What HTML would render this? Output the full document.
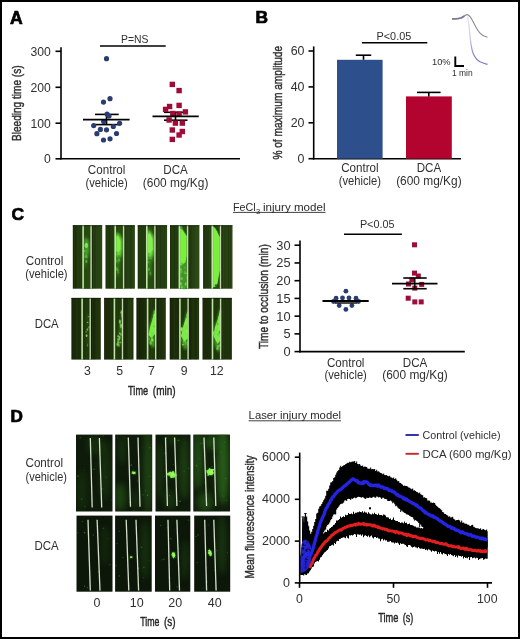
<!DOCTYPE html>
<html><head><meta charset="utf-8"><style>
html,body{margin:0;padding:0;background:#fff;}
svg{display:block;filter:blur(0.3px);}
text{font-family:"Liberation Sans",sans-serif;}
</style></head><body>
<svg width="520" height="639" viewBox="0 0 520 639">
<defs><linearGradient id="gBl" x1="0" y1="0" x2="0" y2="1"><stop offset="0" stop-color="#e4e4f6"/><stop offset="0.45" stop-color="#c8c8ee"/><stop offset="0.75" stop-color="#8c8cd8"/><stop offset="1" stop-color="#7474cc"/></linearGradient><filter id="b1" x="-50%" y="-50%" width="200%" height="200%"><feGaussianBlur stdDeviation="0.9"/></filter><filter id="b2" x="-50%" y="-50%" width="200%" height="200%"><feGaussianBlur stdDeviation="1.8"/></filter><filter id="b05" x="-50%" y="-50%" width="200%" height="200%"><feGaussianBlur stdDeviation="0.5"/></filter><linearGradient id="gC1" x1="0" x2="1" y1="0" y2="0"><stop offset="0" stop-color="#1a2c0a"/><stop offset="0.05" stop-color="#213a0d"/><stop offset="0.3" stop-color="#233c0f"/><stop offset="0.65" stop-color="#243d10"/><stop offset="1" stop-color="#2b4715"/></linearGradient><linearGradient id="gC2" x1="0" x2="1" y1="0" y2="0"><stop offset="0" stop-color="#111c06"/><stop offset="0.05" stop-color="#19290a"/><stop offset="0.3" stop-color="#1b2d0a"/><stop offset="0.65" stop-color="#1c2f0b"/><stop offset="1" stop-color="#21360d"/></linearGradient><filter id="b3" x="-50%" y="-50%" width="200%" height="200%"><feGaussianBlur stdDeviation="3"/></filter></defs>
<rect width="520" height="639" fill="#fff"/>
<text x="9.90" y="23.60" font-size="17.6" fill="#000" font-weight="bold" stroke="#000" stroke-width="0.7">A</text>
<line x1="61.00" y1="47.20" x2="61.00" y2="159.60" stroke="#000" stroke-width="1.6"/>
<line x1="60.20" y1="158.80" x2="240.00" y2="158.80" stroke="#000" stroke-width="1.6"/>
<line x1="55.50" y1="158.80" x2="61.00" y2="158.80" stroke="#000" stroke-width="1.6"/>
<text x="50.90" y="163.20" font-size="12.2" fill="#303030" text-anchor="end" >0</text>
<line x1="55.50" y1="123.20" x2="61.00" y2="123.20" stroke="#000" stroke-width="1.6"/>
<text x="50.90" y="127.60" font-size="12.2" fill="#303030" text-anchor="end" >100</text>
<line x1="55.50" y1="87.30" x2="61.00" y2="87.30" stroke="#000" stroke-width="1.6"/>
<text x="50.90" y="91.70" font-size="12.2" fill="#303030" text-anchor="end" >200</text>
<line x1="55.50" y1="51.30" x2="61.00" y2="51.30" stroke="#000" stroke-width="1.6"/>
<text x="50.90" y="55.70" font-size="12.2" fill="#303030" text-anchor="end" >300</text>
<text x="0" y="0" font-size="13" fill="#303030" text-anchor="middle" textLength="75.5" lengthAdjust="spacingAndGlyphs" stroke="#303030" stroke-width="0.45" transform="translate(21.40,103.20) rotate(-90)">Bleeding time (s)</text>
<line x1="100.00" y1="46.00" x2="165.70" y2="46.00" stroke="#000" stroke-width="1.6"/>
<text x="134.70" y="43.10" font-size="11.8" fill="#303030" text-anchor="middle" textLength="27.4" lengthAdjust="spacingAndGlyphs" >P=NS</text>
<line x1="95.00" y1="114.40" x2="118.70" y2="114.40" stroke="#000" stroke-width="1.6"/>
<line x1="95.00" y1="124.60" x2="118.70" y2="124.60" stroke="#000" stroke-width="1.6"/>
<line x1="106.50" y1="114.40" x2="106.50" y2="124.60" stroke="#000" stroke-width="1.6"/>
<circle cx="106.5" cy="58.7" r="2.6" fill="#2b3d70"/>
<circle cx="110" cy="98.7" r="2.6" fill="#2b3d70"/>
<circle cx="103.5" cy="102.1" r="2.6" fill="#2b3d70"/>
<circle cx="107.1" cy="114" r="2.6" fill="#2b3d70"/>
<circle cx="109" cy="116" r="2.6" fill="#2b3d70"/>
<circle cx="103.7" cy="121.5" r="2.6" fill="#2b3d70"/>
<circle cx="93.7" cy="125.6" r="2.6" fill="#2b3d70"/>
<circle cx="119.6" cy="123.3" r="2.6" fill="#2b3d70"/>
<circle cx="113.3" cy="126.5" r="2.6" fill="#2b3d70"/>
<circle cx="100.4" cy="129.4" r="2.6" fill="#2b3d70"/>
<circle cx="106.5" cy="129.8" r="2.6" fill="#2b3d70"/>
<circle cx="96.9" cy="133.7" r="2.6" fill="#2b3d70"/>
<circle cx="116.5" cy="133.5" r="2.6" fill="#2b3d70"/>
<circle cx="103.5" cy="140" r="2.6" fill="#2b3d70"/>
<circle cx="110" cy="138.8" r="2.6" fill="#2b3d70"/>
<line x1="83.00" y1="119.60" x2="129.60" y2="119.60" stroke="#000" stroke-width="1.8"/>
<line x1="164.00" y1="112.30" x2="187.50" y2="112.30" stroke="#000" stroke-width="1.6"/>
<line x1="164.00" y1="120.20" x2="187.50" y2="120.20" stroke="#000" stroke-width="1.6"/>
<line x1="175.50" y1="112.30" x2="175.50" y2="120.20" stroke="#000" stroke-width="1.6"/>
<rect x="169.60000000000002" y="81.7" width="5.4" height="5.4" fill="#a00c38"/>
<rect x="176.4" y="87.89999999999999" width="5.4" height="5.4" fill="#a00c38"/>
<rect x="176.4" y="102.7" width="5.4" height="5.4" fill="#a00c38"/>
<rect x="166.9" y="103.8" width="5.4" height="5.4" fill="#a00c38"/>
<rect x="162.9" y="106.7" width="5.4" height="5.4" fill="#a00c38"/>
<rect x="182.70000000000002" y="109.2" width="5.4" height="5.4" fill="#a00c38"/>
<rect x="170.10000000000002" y="110.8" width="5.4" height="5.4" fill="#a00c38"/>
<rect x="176.4" y="111.3" width="5.4" height="5.4" fill="#a00c38"/>
<rect x="166.4" y="117.3" width="5.4" height="5.4" fill="#a00c38"/>
<rect x="172.70000000000002" y="120.39999999999999" width="5.4" height="5.4" fill="#a00c38"/>
<rect x="179.60000000000002" y="120.39999999999999" width="5.4" height="5.4" fill="#a00c38"/>
<rect x="169.60000000000002" y="127.3" width="5.4" height="5.4" fill="#a00c38"/>
<rect x="179.60000000000002" y="128.8" width="5.4" height="5.4" fill="#a00c38"/>
<rect x="176.4" y="132.3" width="5.4" height="5.4" fill="#a00c38"/>
<rect x="169.60000000000002" y="136.70000000000002" width="5.4" height="5.4" fill="#a00c38"/>
<line x1="152.50" y1="116.40" x2="198.75" y2="116.40" stroke="#000" stroke-width="1.8"/>
<text x="106.60" y="173.80" font-size="12" fill="#303030" text-anchor="middle" textLength="37.5" lengthAdjust="spacingAndGlyphs" >Control</text>
<text x="106.60" y="187.30" font-size="12" fill="#303030" text-anchor="middle" textLength="42.3" lengthAdjust="spacingAndGlyphs" >(vehicle)</text>
<text x="175.60" y="173.80" font-size="12" fill="#303030" text-anchor="middle" textLength="24.5" lengthAdjust="spacingAndGlyphs" >DCA</text>
<text x="175.60" y="187.30" font-size="12" fill="#303030" text-anchor="middle" textLength="65.5" lengthAdjust="spacingAndGlyphs" >(600 mg/Kg)</text>
<text x="255.60" y="23.40" font-size="17.4" fill="#000" font-weight="bold" stroke="#000" stroke-width="0.7">B</text>
<line x1="313.70" y1="46.40" x2="313.70" y2="159.50" stroke="#000" stroke-width="1.6"/>
<line x1="312.90" y1="158.70" x2="461.00" y2="158.70" stroke="#000" stroke-width="1.6"/>
<line x1="308.50" y1="158.70" x2="313.70" y2="158.70" stroke="#000" stroke-width="1.6"/>
<text x="304.50" y="163.10" font-size="12.4" fill="#303030" text-anchor="end" >0</text>
<line x1="308.50" y1="122.80" x2="313.70" y2="122.80" stroke="#000" stroke-width="1.6"/>
<text x="304.50" y="127.20" font-size="12.4" fill="#303030" text-anchor="end" >20</text>
<line x1="308.50" y1="86.90" x2="313.70" y2="86.90" stroke="#000" stroke-width="1.6"/>
<text x="304.50" y="91.30" font-size="12.4" fill="#303030" text-anchor="end" >40</text>
<line x1="308.50" y1="51.00" x2="313.70" y2="51.00" stroke="#000" stroke-width="1.6"/>
<text x="304.50" y="55.40" font-size="12.4" fill="#303030" text-anchor="end" >60</text>
<text x="0" y="0" font-size="13.5" fill="#303030" text-anchor="middle" textLength="113.7" lengthAdjust="spacingAndGlyphs" stroke="#303030" stroke-width="0.45" transform="translate(282.40,102.75) rotate(-90)">% of maximum amplitude</text>
<rect x="337" y="59.8" width="45.6" height="98.89999999999999" fill="#2d4f8c"/>
<rect x="406" y="96.4" width="45.8" height="62.29999999999998" fill="#b3042f"/>
<line x1="363.50" y1="55.20" x2="363.50" y2="59.80" stroke="#000" stroke-width="1.6"/>
<line x1="355.80" y1="55.20" x2="371.20" y2="55.20" stroke="#000" stroke-width="1.6"/>
<line x1="428.80" y1="92.40" x2="428.80" y2="96.40" stroke="#000" stroke-width="1.6"/>
<line x1="417.00" y1="92.40" x2="440.60" y2="92.40" stroke="#000" stroke-width="1.6"/>
<line x1="361.90" y1="42.70" x2="427.30" y2="42.70" stroke="#000" stroke-width="1.6"/>
<text x="393.90" y="40.40" font-size="11.8" fill="#303030" text-anchor="middle" textLength="34.7" lengthAdjust="spacingAndGlyphs" >P&lt;0.05</text>
<text x="359.90" y="171.70" font-size="12" fill="#303030" text-anchor="middle" textLength="37.5" lengthAdjust="spacingAndGlyphs" >Control</text>
<text x="359.90" y="184.60" font-size="12" fill="#303030" text-anchor="middle" textLength="42.3" lengthAdjust="spacingAndGlyphs" >(vehicle)</text>
<text x="428.90" y="171.70" font-size="12" fill="#303030" text-anchor="middle" textLength="24.5" lengthAdjust="spacingAndGlyphs" >DCA</text>
<text x="428.90" y="184.60" font-size="12" fill="#303030" text-anchor="middle" textLength="65.5" lengthAdjust="spacingAndGlyphs" >(600 mg/Kg)</text>
<path d="M467.5,16.5 C468.5,20 469.3,28 470,36 C470.6,42 471.5,49 473,53 C474.5,57 477,60 480,61.8 C483,63 485,63.8 487.5,64.4" fill="none" stroke="url(#gBl)" stroke-width="1.2"/>
<path d="M452.1,18.9 C456,18.8 459,18.8 461,18 C463,17.2 465,14.6 467.2,14.6 C469.5,14.6 471,17.5 473,21.5 C475,25.5 477,30 480,33.2 C482,35.5 485,36.8 487.5,37.3" fill="none" stroke="#8c8c96" stroke-width="1.1"/>
<path d="M452.1,18.9 C456,18.8 459,18.8 461,18 C462.5,17.4 463.5,16.6 464.5,16" fill="none" stroke="#7a7a94" stroke-width="1.8"/>
<path d="M455.3,56.5 L455.3,66 L464,66" fill="none" stroke="#000" stroke-width="1.9"/>
<text x="432.00" y="64.50" font-size="9" fill="#303030" textLength="18.6" lengthAdjust="spacingAndGlyphs" >10%</text>
<text x="452.00" y="75.90" font-size="8.6" fill="#303030" textLength="20.7" lengthAdjust="spacingAndGlyphs" >1 min</text>
<text x="11.60" y="219.80" font-size="17.4" fill="#000" font-weight="bold" stroke="#000" stroke-width="0.7">C</text>
<text x="233.00" y="210.90" font-size="11" fill="#2a2a2a" textLength="22.7" lengthAdjust="spacingAndGlyphs" >FeCl</text>
<text x="255.90" y="214.30" font-size="7.5" fill="#2a2a2a" >3</text>
<text x="263.00" y="210.90" font-size="11" fill="#2a2a2a" textLength="62.5" lengthAdjust="spacingAndGlyphs" >injury model</text>
<line x1="233.00" y1="212.40" x2="325.50" y2="212.40" stroke="#2a2a2a" stroke-width="0.9"/>
<text x="25.80" y="264.70" font-size="12" fill="#303030" textLength="37.5" lengthAdjust="spacingAndGlyphs" >Control</text>
<text x="25.30" y="278.30" font-size="12" fill="#303030" textLength="42.3" lengthAdjust="spacingAndGlyphs" >(vehicle)</text>
<text x="34.70" y="328.30" font-size="12" fill="#303030" textLength="24" lengthAdjust="spacingAndGlyphs" >DCA</text>
<text x="87.40" y="374.80" font-size="12.3" fill="#303030" text-anchor="middle" >3</text>
<text x="119.60" y="374.80" font-size="12.3" fill="#303030" text-anchor="middle" >5</text>
<text x="151.30" y="374.80" font-size="12.3" fill="#303030" text-anchor="middle" >7</text>
<text x="184.20" y="374.80" font-size="12.3" fill="#303030" text-anchor="middle" >9</text>
<text x="216.80" y="374.80" font-size="12.3" fill="#303030" text-anchor="middle" >12</text>
<text x="128.10" y="394.50" font-size="13.6" fill="#303030" textLength="20" lengthAdjust="spacingAndGlyphs" stroke="#1a1a1a" stroke-width="0.45">Time</text>
<text x="152.80" y="394.50" font-size="13.6" fill="#303030" textLength="22.8" lengthAdjust="spacingAndGlyphs" stroke="#1a1a1a" stroke-width="0.45">(min)</text>
<g>
<rect x="72.8" y="225.2" width="29.4" height="63.5" fill="url(#gC1)"/>
<rect x="72.9" y="225.2" width="1.1" height="63.5" fill="#000" opacity="0.12"/>
<rect x="74.7" y="225.2" width="1.7" height="63.5" fill="#000" opacity="0.18"/>
<rect x="87.5" y="225.2" width="1.0" height="63.5" fill="#000" opacity="0.12"/>
<rect x="81.6" y="225.2" width="1.7" height="63.5" fill="#000" opacity="0.12"/>
<rect x="94.1" y="225.2" width="1.6" height="63.5" fill="#000" opacity="0.12"/>
<rect x="85.2" y="225.2" width="0.7" height="63.5" fill="#000" opacity="0.13"/>
<rect x="80.6" y="225.2" width="0.8" height="63.5" fill="#4a7a28" opacity="0.09"/>
<rect x="83.1" y="225.2" width="8.0" height="63.5" fill="#2a5010" opacity="0.7"/>
<rect x="91.69999999999999" y="225.2" width="1.2" height="63.5" fill="#000" opacity="0.3"/>
<path d="M84.0,237.2 L87.3,236.7 L89.3,241.2 L89.6,251.2 L88.3,259.2 L85.8,267.2 L84.0,269.2 Z" fill="#3a8a24" opacity="0.55" filter="url(#b2)"/>
<path d="M84.3,239.2 L87.3,238.7 L88.8,243.2 L88.8,251.2 L87.3,257.2 L84.8,259.2 L84.3,255.2 Z" fill="#4cae30" opacity="0.8" filter="url(#b1)"/>
<path d="M88.1,245.5 L87.8,247.0 L86.9,248.0 L85.7,248.0 L84.8,247.0 L84.5,245.5 L84.8,244.0 L85.7,243.0 L86.9,243.0 L87.8,244.0 Z" fill="#8ae060" opacity="0.95" filter="url(#b05)"/>
<ellipse cx="85.9" cy="256.2" rx="1.3" ry="1.5" fill="#6cc848" opacity="0.47" filter="url(#b05)"/>
<ellipse cx="86.2" cy="257.3" rx="1.2" ry="0.9" fill="#5ab83a" opacity="0.46" filter="url(#b05)"/>
<ellipse cx="86.3" cy="261.4" rx="1.1" ry="1.6" fill="#5ab83a" opacity="0.79" filter="url(#b05)"/>
<ellipse cx="86.8" cy="257.0" rx="0.7" ry="0.8" fill="#6cc848" opacity="0.42" filter="url(#b05)"/>
<ellipse cx="84.8" cy="251.1" rx="0.6" ry="1.4" fill="#5ab83a" opacity="0.64" filter="url(#b05)"/>
<ellipse cx="84.8" cy="250.9" rx="0.8" ry="0.8" fill="#6cc848" opacity="0.58" filter="url(#b05)"/>
<rect x="82.3" y="225.2" width="1.6" height="63.5" fill="#c0e4a8"/>
<rect x="90.39999999999999" y="225.2" width="1.4" height="63.5" fill="#c4d8b0"/>
<rect x="72.8" y="225.2" width="29.4" height="1" fill="#0c1804" opacity="0.6"/>
</g>
<g>
<rect x="105.5" y="225.2" width="29.4" height="63.5" fill="url(#gC1)"/>
<rect x="129.9" y="225.2" width="1.0" height="63.5" fill="#000" opacity="0.13"/>
<rect x="114.8" y="225.2" width="1.7" height="63.5" fill="#000" opacity="0.14"/>
<rect x="108.7" y="225.2" width="1.1" height="63.5" fill="#000" opacity="0.15"/>
<rect x="131.0" y="225.2" width="1.5" height="63.5" fill="#000" opacity="0.10"/>
<rect x="123.2" y="225.2" width="1.4" height="63.5" fill="#4a7a28" opacity="0.12"/>
<rect x="121.6" y="225.2" width="0.8" height="63.5" fill="#000" opacity="0.09"/>
<rect x="113.1" y="225.2" width="1.2" height="63.5" fill="#4a7a28" opacity="0.08"/>
<rect x="115.2" y="225.2" width="8.400000000000002" height="63.5" fill="#2a5010" opacity="0.7"/>
<rect x="124.19999999999999" y="225.2" width="1.2" height="63.5" fill="#000" opacity="0.3"/>
<path d="M116.0,231.2 L118.5,232.2 L122.5,238.2 L122.8,247.2 L121.8,258.2 L119.5,262.2 L118.5,275.2 L116.5,277.2 L116.0,265.2 Z" fill="#3e9a26" opacity="0.7" filter="url(#b2)"/>
<path d="M116.0,233.2 L118.5,233.7 L121.8,239.2 L122.1,248.2 L121.0,255.2 L118.0,258.2 L116.0,255.2 Z" fill="#6ad83a" opacity="0.95" filter="url(#b1)"/>
<path d="M116.3,236.2 L118.5,236.2 L120.5,241.2 L120.5,249.2 L118.5,252.2 L116.3,251.2 Z" fill="#88f050" opacity="0.9" filter="url(#b05)"/>
<ellipse cx="116.9" cy="268.9" rx="1.1" ry="2.0" fill="#58b834" opacity="0.66" filter="url(#b05)"/>
<ellipse cx="118.3" cy="272.6" rx="1.1" ry="1.1" fill="#4aa82c" opacity="0.61" filter="url(#b05)"/>
<ellipse cx="116.7" cy="261.1" rx="0.9" ry="2.0" fill="#4aa82c" opacity="0.80" filter="url(#b05)"/>
<ellipse cx="118.9" cy="256.9" rx="1.2" ry="2.0" fill="#3e9426" opacity="0.73" filter="url(#b05)"/>
<ellipse cx="118.8" cy="260.3" rx="1.3" ry="1.5" fill="#64c83a" opacity="0.67" filter="url(#b05)"/>
<ellipse cx="118.3" cy="262.1" rx="1.1" ry="1.7" fill="#3e9426" opacity="0.68" filter="url(#b05)"/>
<ellipse cx="117.9" cy="270.2" rx="0.7" ry="1.7" fill="#64c83a" opacity="0.61" filter="url(#b05)"/>
<ellipse cx="117.0" cy="258.8" rx="0.9" ry="1.3" fill="#3e9426" opacity="0.64" filter="url(#b05)"/>
<rect x="114.4" y="225.2" width="1.6" height="63.5" fill="#c0e4a8"/>
<rect x="122.89999999999999" y="225.2" width="1.4" height="63.5" fill="#c4d8b0"/>
<rect x="105.5" y="225.2" width="29.4" height="1" fill="#0c1804" opacity="0.6"/>
</g>
<g>
<rect x="137.7" y="225.2" width="29.4" height="63.5" fill="url(#gC1)"/>
<rect x="159.8" y="225.2" width="1.0" height="63.5" fill="#000" opacity="0.17"/>
<rect x="148.9" y="225.2" width="1.3" height="63.5" fill="#4a7a28" opacity="0.18"/>
<rect x="151.9" y="225.2" width="1.2" height="63.5" fill="#000" opacity="0.11"/>
<rect x="164.0" y="225.2" width="1.1" height="63.5" fill="#000" opacity="0.13"/>
<rect x="150.6" y="225.2" width="1.7" height="63.5" fill="#4a7a28" opacity="0.09"/>
<rect x="161.8" y="225.2" width="0.9" height="63.5" fill="#000" opacity="0.13"/>
<rect x="146.0" y="225.2" width="1.5" height="63.5" fill="#000" opacity="0.08"/>
<rect x="146.79999999999998" y="225.2" width="8.1" height="63.5" fill="#2a5010" opacity="0.7"/>
<rect x="155.49999999999997" y="225.2" width="1.2" height="63.5" fill="#000" opacity="0.3"/>
<path d="M147.6,228.2 L149.7,229.2 L153.7,235.2 L154.5,247.2 L153.7,259.2 L151.2,263.2 L150.7,275.2 L148.7,277.2 L147.6,267.2 Z" fill="#3e9a26" opacity="0.7" filter="url(#b2)"/>
<path d="M147.6,230.2 L149.7,231.2 L153.5,237.2 L153.9,249.2 L152.5,256.2 L148.7,258.2 L147.6,255.2 Z" fill="#6ee03c" opacity="0.95" filter="url(#b1)"/>
<path d="M147.9,233.2 L150.2,234.2 L152.5,239.2 L152.7,249.2 L150.7,253.2 L147.9,252.2 Z" fill="#8af252" opacity="0.9" filter="url(#b05)"/>
<ellipse cx="150.6" cy="258.4" rx="1.4" ry="0.8" fill="#58b834" opacity="0.74" filter="url(#b05)"/>
<ellipse cx="149.0" cy="269.4" rx="0.8" ry="1.2" fill="#58b834" opacity="0.77" filter="url(#b05)"/>
<ellipse cx="148.4" cy="262.3" rx="0.9" ry="1.2" fill="#64c83a" opacity="0.49" filter="url(#b05)"/>
<ellipse cx="149.5" cy="263.6" rx="0.7" ry="1.6" fill="#3e9426" opacity="0.58" filter="url(#b05)"/>
<ellipse cx="148.9" cy="269.1" rx="1.0" ry="1.9" fill="#4aa82c" opacity="0.60" filter="url(#b05)"/>
<ellipse cx="148.2" cy="258.6" rx="1.4" ry="1.8" fill="#4aa82c" opacity="0.51" filter="url(#b05)"/>
<ellipse cx="149.6" cy="272.9" rx="0.7" ry="1.0" fill="#4aa82c" opacity="0.43" filter="url(#b05)"/>
<ellipse cx="150.6" cy="273.6" rx="0.8" ry="2.1" fill="#58b834" opacity="0.47" filter="url(#b05)"/>
<rect x="145.99999999999997" y="225.2" width="1.6" height="63.5" fill="#c0e4a8"/>
<rect x="154.2" y="225.2" width="1.4" height="63.5" fill="#c4d8b0"/>
<rect x="137.7" y="225.2" width="29.4" height="1" fill="#0c1804" opacity="0.6"/>
</g>
<g>
<rect x="170.0" y="225.2" width="29.4" height="63.5" fill="url(#gC1)"/>
<rect x="174.0" y="225.2" width="0.7" height="63.5" fill="#000" opacity="0.18"/>
<rect x="190.3" y="225.2" width="1.2" height="63.5" fill="#000" opacity="0.14"/>
<rect x="197.3" y="225.2" width="1.4" height="63.5" fill="#4a7a28" opacity="0.15"/>
<rect x="178.8" y="225.2" width="0.6" height="63.5" fill="#4a7a28" opacity="0.19"/>
<rect x="195.9" y="225.2" width="0.8" height="63.5" fill="#000" opacity="0.11"/>
<rect x="195.6" y="225.2" width="1.4" height="63.5" fill="#4a7a28" opacity="0.19"/>
<rect x="186.7" y="225.2" width="0.7" height="63.5" fill="#4a7a28" opacity="0.08"/>
<rect x="179.4" y="225.2" width="8.200000000000001" height="63.5" fill="#2a5010" opacity="0.7"/>
<rect x="188.2" y="225.2" width="1.2" height="63.5" fill="#000" opacity="0.3"/>
<path d="M180.2,225.7 L182.0,225.7 L183.0,229.2 L186.8,235.2 L186.8,288.2 L180.2,288.2 Z" fill="#4a9e2e" opacity="0.9" filter="url(#b05)"/>
<path d="M180.2,228.2 L182.5,230.2 L186.6,236.2 L186.6,255.2 L185.5,262.2 L183.0,264.2 L180.2,265.2 Z" fill="#7af03e" opacity="1" filter="url(#b05)"/>
<ellipse cx="182.6" cy="274.2" rx="0.9" ry="1.4" fill="#3e9426" opacity="0.94" filter="url(#b05)"/>
<ellipse cx="184.9" cy="267.6" rx="0.8" ry="1.2" fill="#58b834" opacity="0.87" filter="url(#b05)"/>
<ellipse cx="186.5" cy="277.5" rx="0.6" ry="1.1" fill="#58b834" opacity="0.70" filter="url(#b05)"/>
<ellipse cx="186.1" cy="283.0" rx="1.1" ry="0.8" fill="#64c83a" opacity="0.84" filter="url(#b05)"/>
<ellipse cx="184.8" cy="287.8" rx="1.2" ry="1.3" fill="#3e9426" opacity="0.92" filter="url(#b05)"/>
<ellipse cx="182.5" cy="272.6" rx="1.1" ry="2.1" fill="#4aa82c" opacity="0.83" filter="url(#b05)"/>
<ellipse cx="182.1" cy="263.5" rx="1.4" ry="0.8" fill="#58b834" opacity="0.69" filter="url(#b05)"/>
<ellipse cx="181.2" cy="269.4" rx="1.0" ry="0.9" fill="#64c83a" opacity="0.79" filter="url(#b05)"/>
<ellipse cx="185.8" cy="273.2" rx="1.3" ry="0.8" fill="#64c83a" opacity="0.88" filter="url(#b05)"/>
<ellipse cx="181.0" cy="283.7" rx="0.7" ry="1.7" fill="#86f050" opacity="0.88" filter="url(#b05)"/>
<ellipse cx="186.3" cy="285.4" rx="0.6" ry="0.9" fill="#3e9426" opacity="0.76" filter="url(#b05)"/>
<ellipse cx="182.3" cy="275.0" rx="1.4" ry="1.9" fill="#3e9426" opacity="0.93" filter="url(#b05)"/>
<ellipse cx="180.7" cy="269.8" rx="1.2" ry="1.6" fill="#6cd838" opacity="0.60" filter="url(#b05)"/>
<ellipse cx="184.3" cy="286.0" rx="0.7" ry="1.8" fill="#3e9426" opacity="0.66" filter="url(#b05)"/>
<ellipse cx="184.4" cy="268.1" rx="0.7" ry="0.8" fill="#4aa82c" opacity="0.70" filter="url(#b05)"/>
<ellipse cx="181.0" cy="278.5" rx="0.8" ry="1.4" fill="#3e9426" opacity="0.79" filter="url(#b05)"/>
<ellipse cx="185.0" cy="273.6" rx="0.6" ry="0.8" fill="#6cd838" opacity="0.77" filter="url(#b05)"/>
<ellipse cx="181.9" cy="287.3" rx="0.9" ry="1.9" fill="#74e43c" opacity="0.77" filter="url(#b05)"/>
<ellipse cx="180.9" cy="264.3" rx="0.9" ry="2.0" fill="#6cd838" opacity="0.65" filter="url(#b05)"/>
<ellipse cx="181.1" cy="272.1" rx="1.0" ry="1.4" fill="#58b834" opacity="0.87" filter="url(#b05)"/>
<ellipse cx="185.6" cy="284.4" rx="0.8" ry="1.4" fill="#7cf040" opacity="0.80" filter="url(#b05)"/>
<ellipse cx="184.0" cy="287.5" rx="1.3" ry="1.9" fill="#4aa82c" opacity="0.89" filter="url(#b05)"/>
<ellipse cx="181.8" cy="278.6" rx="0.8" ry="1.4" fill="#86f050" opacity="0.80" filter="url(#b05)"/>
<ellipse cx="180.7" cy="278.3" rx="1.1" ry="1.8" fill="#58b834" opacity="0.62" filter="url(#b05)"/>
<ellipse cx="180.7" cy="274.6" rx="1.2" ry="1.5" fill="#4aa82c" opacity="0.67" filter="url(#b05)"/>
<ellipse cx="184.9" cy="272.1" rx="0.9" ry="1.1" fill="#64c83a" opacity="0.68" filter="url(#b05)"/>
<rect x="178.6" y="225.2" width="1.6" height="63.5" fill="#c0e4a8"/>
<rect x="186.9" y="225.2" width="1.4" height="63.5" fill="#c4d8b0"/>
<rect x="170.0" y="225.2" width="29.4" height="1" fill="#0c1804" opacity="0.6"/>
</g>
<g>
<rect x="203.1" y="225.2" width="29.4" height="63.5" fill="url(#gC1)"/>
<rect x="229.9" y="225.2" width="0.7" height="63.5" fill="#000" opacity="0.17"/>
<rect x="209.2" y="225.2" width="1.0" height="63.5" fill="#4a7a28" opacity="0.16"/>
<rect x="228.3" y="225.2" width="0.8" height="63.5" fill="#000" opacity="0.20"/>
<rect x="223.1" y="225.2" width="0.8" height="63.5" fill="#4a7a28" opacity="0.19"/>
<rect x="203.4" y="225.2" width="1.3" height="63.5" fill="#000" opacity="0.13"/>
<rect x="216.8" y="225.2" width="1.3" height="63.5" fill="#000" opacity="0.13"/>
<rect x="210.8" y="225.2" width="1.3" height="63.5" fill="#4a7a28" opacity="0.19"/>
<rect x="212.29999999999998" y="225.2" width="8.2" height="63.5" fill="#2a5010" opacity="0.7"/>
<rect x="221.1" y="225.2" width="1.2" height="63.5" fill="#000" opacity="0.3"/>
<path d="M213.1,226.2 L215.1,228.2 L217.1,231.2 L219.8,237.2 L219.8,270.2 L217.6,283.2 L216.1,286.7 L213.1,287.2 Z" fill="#7af03c" opacity="1" filter="url(#b05)"/>
<path d="M217.6,285.7 L217.3,286.6 L216.6,287.1 L215.6,287.1 L214.9,286.6 L214.6,285.7 L214.9,284.8 L215.6,284.3 L216.6,284.3 L217.3,284.8 Z" fill="#2a5a18" opacity="0.8" filter="url(#b05)"/>
<rect x="211.49999999999997" y="225.2" width="1.6" height="63.5" fill="#c0e4a8"/>
<rect x="219.8" y="225.2" width="1.4" height="63.5" fill="#c4d8b0"/>
<rect x="203.1" y="225.2" width="29.4" height="1" fill="#0c1804" opacity="0.6"/>
</g>
<g>
<rect x="71.4" y="297.9" width="29.4" height="61.7" fill="url(#gC2)"/>
<rect x="81.5" y="297.9" width="0.6" height="61.7" fill="#000" opacity="0.10"/>
<rect x="92.9" y="297.9" width="1.1" height="61.7" fill="#000" opacity="0.15"/>
<rect x="84.1" y="297.9" width="1.0" height="61.7" fill="#000" opacity="0.19"/>
<rect x="88.3" y="297.9" width="0.7" height="61.7" fill="#000" opacity="0.11"/>
<rect x="87.0" y="297.9" width="1.2" height="61.7" fill="#4a7a28" opacity="0.08"/>
<rect x="94.1" y="297.9" width="1.2" height="61.7" fill="#000" opacity="0.18"/>
<rect x="75.9" y="297.9" width="1.5" height="61.7" fill="#4a7a28" opacity="0.09"/>
<rect x="82.10000000000001" y="297.9" width="8.100000000000001" height="61.7" fill="#24400e" opacity="0.5"/>
<rect x="90.8" y="297.9" width="1.2" height="61.7" fill="#000" opacity="0.3"/>
<path d="M86.4,313.9 L89.4,313.9 L89.4,343.9 L86.4,343.9 Z" fill="#3a7a22" opacity="0.3" filter="url(#b2)"/>
<ellipse cx="86.5" cy="336.0" rx="0.8" ry="1.0" fill="#8ad060" opacity="0.70" filter="url(#b05)"/>
<ellipse cx="87.6" cy="344.7" rx="0.6" ry="1.1" fill="#8ad060" opacity="0.35" filter="url(#b05)"/>
<ellipse cx="89.2" cy="327.6" rx="0.6" ry="1.3" fill="#8ad060" opacity="0.59" filter="url(#b05)"/>
<ellipse cx="87.4" cy="345.8" rx="0.9" ry="1.0" fill="#6cb848" opacity="0.36" filter="url(#b05)"/>
<ellipse cx="87.1" cy="329.8" rx="0.6" ry="1.5" fill="#6cb848" opacity="0.36" filter="url(#b05)"/>
<ellipse cx="88.5" cy="316.7" rx="0.9" ry="0.6" fill="#8ad060" opacity="0.54" filter="url(#b05)"/>
<ellipse cx="87.1" cy="329.4" rx="0.6" ry="0.6" fill="#8ad060" opacity="0.38" filter="url(#b05)"/>
<ellipse cx="86.6" cy="335.5" rx="0.9" ry="1.2" fill="#9ad870" opacity="0.70" filter="url(#b05)"/>
<ellipse cx="86.1" cy="331.8" rx="0.8" ry="0.9" fill="#6cb848" opacity="0.67" filter="url(#b05)"/>
<ellipse cx="89.0" cy="327.0" rx="0.7" ry="1.0" fill="#6cb848" opacity="0.46" filter="url(#b05)"/>
<ellipse cx="87.6" cy="322.4" rx="0.9" ry="0.7" fill="#9ad870" opacity="0.70" filter="url(#b05)"/>
<ellipse cx="87.6" cy="329.6" rx="0.8" ry="1.3" fill="#8ad060" opacity="0.55" filter="url(#b05)"/>
<rect x="81.30000000000001" y="297.9" width="1.6" height="61.7" fill="#c0e4a8"/>
<rect x="89.5" y="297.9" width="1.4" height="61.7" fill="#c4d8b0"/>
<rect x="71.4" y="297.9" width="29.4" height="1" fill="#0c1804" opacity="0.6"/>
</g>
<g>
<rect x="104.1" y="297.9" width="29.4" height="61.7" fill="url(#gC2)"/>
<rect x="127.9" y="297.9" width="1.4" height="61.7" fill="#4a7a28" opacity="0.12"/>
<rect x="117.0" y="297.9" width="1.2" height="61.7" fill="#4a7a28" opacity="0.12"/>
<rect x="129.8" y="297.9" width="1.8" height="61.7" fill="#4a7a28" opacity="0.15"/>
<rect x="104.4" y="297.9" width="1.4" height="61.7" fill="#4a7a28" opacity="0.10"/>
<rect x="110.5" y="297.9" width="0.7" height="61.7" fill="#4a7a28" opacity="0.21"/>
<rect x="125.2" y="297.9" width="1.1" height="61.7" fill="#000" opacity="0.15"/>
<rect x="114.2" y="297.9" width="1.1" height="61.7" fill="#000" opacity="0.11"/>
<rect x="114.39999999999999" y="297.9" width="8.099999999999998" height="61.7" fill="#24400e" opacity="0.5"/>
<rect x="123.1" y="297.9" width="1.2" height="61.7" fill="#000" opacity="0.3"/>
<path d="M121.1,309.9 L122.1,309.9 L122.1,327.9 L121.1,339.9 L119.1,347.9 L117.1,345.9 L118.6,332.9 L120.1,319.9 Z" fill="#4aa82c" opacity="0.5" filter="url(#b1)"/>
<ellipse cx="121.9" cy="315.2" rx="0.6" ry="2.2" fill="#8ee060" opacity="0.78" filter="url(#b05)"/>
<ellipse cx="121.0" cy="312.9" rx="0.8" ry="0.9" fill="#7cd850" opacity="0.57" filter="url(#b05)"/>
<ellipse cx="119.6" cy="337.8" rx="0.9" ry="2.0" fill="#7cd850" opacity="0.85" filter="url(#b05)"/>
<ellipse cx="119.8" cy="321.7" rx="0.8" ry="2.0" fill="#7cd850" opacity="0.71" filter="url(#b05)"/>
<ellipse cx="121.8" cy="312.2" rx="0.9" ry="1.3" fill="#8ee060" opacity="0.88" filter="url(#b05)"/>
<ellipse cx="118.3" cy="339.6" rx="1.4" ry="1.7" fill="#8ee060" opacity="0.61" filter="url(#b05)"/>
<ellipse cx="118.1" cy="336.2" rx="0.9" ry="1.3" fill="#8ee060" opacity="0.67" filter="url(#b05)"/>
<ellipse cx="121.5" cy="325.0" rx="1.3" ry="1.1" fill="#7cd850" opacity="0.65" filter="url(#b05)"/>
<ellipse cx="119.8" cy="321.2" rx="1.1" ry="1.6" fill="#6cc848" opacity="0.80" filter="url(#b05)"/>
<ellipse cx="121.5" cy="326.1" rx="0.7" ry="1.4" fill="#8ee060" opacity="0.67" filter="url(#b05)"/>
<ellipse cx="118.8" cy="345.2" rx="1.4" ry="1.5" fill="#6cc848" opacity="0.50" filter="url(#b05)"/>
<ellipse cx="117.6" cy="344.5" rx="1.1" ry="1.4" fill="#8ee060" opacity="0.71" filter="url(#b05)"/>
<ellipse cx="121.0" cy="334.5" rx="0.8" ry="1.8" fill="#8ee060" opacity="0.58" filter="url(#b05)"/>
<ellipse cx="120.4" cy="342.5" rx="1.0" ry="0.9" fill="#7cd850" opacity="0.64" filter="url(#b05)"/>
<ellipse cx="120.1" cy="322.8" rx="0.7" ry="1.8" fill="#6cc848" opacity="0.78" filter="url(#b05)"/>
<ellipse cx="119.8" cy="333.4" rx="0.9" ry="1.0" fill="#7cd850" opacity="0.83" filter="url(#b05)"/>
<ellipse cx="121.3" cy="311.2" rx="0.8" ry="1.5" fill="#6cc848" opacity="0.52" filter="url(#b05)"/>
<ellipse cx="120.4" cy="325.8" rx="0.8" ry="2.0" fill="#8ee060" opacity="0.61" filter="url(#b05)"/>
<ellipse cx="117.5" cy="343.7" rx="1.1" ry="0.9" fill="#6cc848" opacity="0.56" filter="url(#b05)"/>
<ellipse cx="118.1" cy="342.1" rx="1.2" ry="1.2" fill="#8ee060" opacity="0.59" filter="url(#b05)"/>
<ellipse cx="121.1" cy="327.1" rx="1.1" ry="1.4" fill="#6cc848" opacity="0.56" filter="url(#b05)"/>
<ellipse cx="118.5" cy="342.7" rx="1.3" ry="0.8" fill="#6cc848" opacity="0.74" filter="url(#b05)"/>
<rect x="113.6" y="297.9" width="1.6" height="61.7" fill="#c0e4a8"/>
<rect x="121.8" y="297.9" width="1.4" height="61.7" fill="#c4d8b0"/>
<rect x="104.1" y="297.9" width="29.4" height="1" fill="#0c1804" opacity="0.6"/>
</g>
<g>
<rect x="136.4" y="297.9" width="29.4" height="61.7" fill="url(#gC2)"/>
<rect x="160.4" y="297.9" width="1.5" height="61.7" fill="#000" opacity="0.09"/>
<rect x="150.7" y="297.9" width="1.3" height="61.7" fill="#4a7a28" opacity="0.15"/>
<rect x="153.5" y="297.9" width="1.0" height="61.7" fill="#4a7a28" opacity="0.15"/>
<rect x="139.3" y="297.9" width="0.6" height="61.7" fill="#000" opacity="0.19"/>
<rect x="142.7" y="297.9" width="0.7" height="61.7" fill="#000" opacity="0.12"/>
<rect x="140.3" y="297.9" width="0.6" height="61.7" fill="#000" opacity="0.21"/>
<rect x="157.6" y="297.9" width="1.4" height="61.7" fill="#000" opacity="0.13"/>
<rect x="147.6" y="297.9" width="8.100000000000001" height="61.7" fill="#24400e" opacity="0.5"/>
<rect x="156.3" y="297.9" width="1.2" height="61.7" fill="#000" opacity="0.3"/>
<path d="M154.4,307.9 L155.0,308.9 L155.0,345.9 L152.4,347.9 L149.4,342.9 L148.2,335.9 L148.9,327.9 L151.9,317.9 Z" fill="#4aa82c" opacity="0.8" filter="url(#b1)"/>
<path d="M154.4,309.9 L155.0,310.9 L155.0,333.9 L151.4,337.9 L148.6,334.9 L150.4,325.9 L152.9,317.9 Z" fill="#78ec40" opacity="1" filter="url(#b05)"/>
<ellipse cx="154.3" cy="312.1" rx="1.1" ry="1.4" fill="#4aa82c" opacity="0.74" filter="url(#b05)"/>
<ellipse cx="153.2" cy="319.1" rx="0.6" ry="1.7" fill="#7cf040" opacity="0.64" filter="url(#b05)"/>
<ellipse cx="154.9" cy="327.8" rx="0.6" ry="1.7" fill="#86f050" opacity="0.74" filter="url(#b05)"/>
<ellipse cx="152.3" cy="333.9" rx="1.1" ry="2.2" fill="#74e43c" opacity="0.83" filter="url(#b05)"/>
<ellipse cx="152.2" cy="339.8" rx="0.7" ry="1.5" fill="#6cd838" opacity="0.87" filter="url(#b05)"/>
<ellipse cx="149.5" cy="339.3" rx="1.0" ry="1.7" fill="#4aa82c" opacity="0.68" filter="url(#b05)"/>
<ellipse cx="152.2" cy="340.1" rx="0.9" ry="1.3" fill="#7cf040" opacity="0.82" filter="url(#b05)"/>
<ellipse cx="154.3" cy="326.2" rx="0.8" ry="1.0" fill="#58b834" opacity="0.91" filter="url(#b05)"/>
<ellipse cx="153.1" cy="340.4" rx="0.8" ry="1.6" fill="#64c83a" opacity="0.84" filter="url(#b05)"/>
<ellipse cx="154.6" cy="315.3" rx="1.4" ry="0.9" fill="#86f050" opacity="0.76" filter="url(#b05)"/>
<ellipse cx="154.6" cy="325.8" rx="0.7" ry="0.8" fill="#86f050" opacity="0.80" filter="url(#b05)"/>
<ellipse cx="152.0" cy="337.6" rx="1.0" ry="1.2" fill="#74e43c" opacity="0.64" filter="url(#b05)"/>
<ellipse cx="152.0" cy="339.8" rx="0.8" ry="1.4" fill="#7cf040" opacity="0.78" filter="url(#b05)"/>
<ellipse cx="150.7" cy="342.8" rx="1.3" ry="2.1" fill="#64c83a" opacity="0.92" filter="url(#b05)"/>
<rect x="146.79999999999998" y="297.9" width="1.6" height="61.7" fill="#c0e4a8"/>
<rect x="155.00000000000003" y="297.9" width="1.4" height="61.7" fill="#c4d8b0"/>
<rect x="136.4" y="297.9" width="29.4" height="1" fill="#0c1804" opacity="0.6"/>
</g>
<g>
<rect x="169.7" y="297.9" width="29.4" height="61.7" fill="url(#gC2)"/>
<rect x="182.9" y="297.9" width="1.4" height="61.7" fill="#000" opacity="0.18"/>
<rect x="174.0" y="297.9" width="1.0" height="61.7" fill="#4a7a28" opacity="0.12"/>
<rect x="195.3" y="297.9" width="1.5" height="61.7" fill="#000" opacity="0.09"/>
<rect x="194.7" y="297.9" width="0.6" height="61.7" fill="#000" opacity="0.13"/>
<rect x="196.5" y="297.9" width="1.5" height="61.7" fill="#4a7a28" opacity="0.10"/>
<rect x="190.0" y="297.9" width="1.3" height="61.7" fill="#000" opacity="0.18"/>
<rect x="195.9" y="297.9" width="0.8" height="61.7" fill="#000" opacity="0.14"/>
<rect x="179.89999999999998" y="297.9" width="8.2" height="61.7" fill="#24400e" opacity="0.5"/>
<rect x="188.7" y="297.9" width="1.2" height="61.7" fill="#000" opacity="0.3"/>
<path d="M187.2,309.9 L187.7,310.4 L187.7,347.9 L184.7,349.9 L181.7,343.9 L180.5,335.9 L181.2,329.9 L184.2,321.9 Z" fill="#4aa82c" opacity="0.8" filter="url(#b1)"/>
<path d="M187.2,311.9 L187.7,312.9 L187.7,337.9 L184.7,341.9 L181.0,335.9 L182.7,327.9 L185.2,319.9 Z" fill="#78ec40" opacity="1" filter="url(#b05)"/>
<ellipse cx="185.7" cy="342.8" rx="0.7" ry="2.2" fill="#6cd838" opacity="0.67" filter="url(#b05)"/>
<ellipse cx="185.5" cy="337.7" rx="1.4" ry="1.9" fill="#7cf040" opacity="0.89" filter="url(#b05)"/>
<ellipse cx="186.1" cy="327.7" rx="1.3" ry="2.2" fill="#74e43c" opacity="0.61" filter="url(#b05)"/>
<ellipse cx="181.9" cy="329.6" rx="1.3" ry="1.8" fill="#6cd838" opacity="0.98" filter="url(#b05)"/>
<ellipse cx="186.6" cy="316.9" rx="0.9" ry="1.2" fill="#4aa82c" opacity="0.86" filter="url(#b05)"/>
<ellipse cx="185.9" cy="322.7" rx="0.8" ry="1.6" fill="#86f050" opacity="0.93" filter="url(#b05)"/>
<ellipse cx="187.6" cy="343.6" rx="0.8" ry="1.8" fill="#6cd838" opacity="0.64" filter="url(#b05)"/>
<ellipse cx="181.7" cy="329.1" rx="1.1" ry="2.2" fill="#86f050" opacity="0.79" filter="url(#b05)"/>
<ellipse cx="182.5" cy="330.2" rx="0.8" ry="1.9" fill="#74e43c" opacity="0.85" filter="url(#b05)"/>
<ellipse cx="182.5" cy="335.4" rx="1.1" ry="1.3" fill="#7cf040" opacity="0.76" filter="url(#b05)"/>
<ellipse cx="184.0" cy="342.5" rx="0.8" ry="1.1" fill="#58b834" opacity="0.93" filter="url(#b05)"/>
<ellipse cx="183.1" cy="344.6" rx="1.3" ry="0.8" fill="#6cd838" opacity="0.88" filter="url(#b05)"/>
<ellipse cx="183.8" cy="340.8" rx="0.7" ry="0.9" fill="#74e43c" opacity="0.88" filter="url(#b05)"/>
<ellipse cx="186.4" cy="331.4" rx="1.1" ry="1.4" fill="#86f050" opacity="0.94" filter="url(#b05)"/>
<rect x="179.09999999999997" y="297.9" width="1.6" height="61.7" fill="#c0e4a8"/>
<rect x="187.4" y="297.9" width="1.4" height="61.7" fill="#c4d8b0"/>
<rect x="169.7" y="297.9" width="29.4" height="1" fill="#0c1804" opacity="0.6"/>
</g>
<g>
<rect x="202.5" y="297.9" width="29.4" height="61.7" fill="url(#gC2)"/>
<rect x="221.1" y="297.9" width="1.6" height="61.7" fill="#4a7a28" opacity="0.14"/>
<rect x="203.1" y="297.9" width="0.7" height="61.7" fill="#4a7a28" opacity="0.13"/>
<rect x="212.6" y="297.9" width="1.5" height="61.7" fill="#000" opacity="0.19"/>
<rect x="223.0" y="297.9" width="1.0" height="61.7" fill="#4a7a28" opacity="0.11"/>
<rect x="221.7" y="297.9" width="0.7" height="61.7" fill="#4a7a28" opacity="0.09"/>
<rect x="229.3" y="297.9" width="1.0" height="61.7" fill="#000" opacity="0.13"/>
<rect x="215.6" y="297.9" width="1.3" height="61.7" fill="#000" opacity="0.10"/>
<rect x="212.5" y="297.9" width="8.100000000000001" height="61.7" fill="#24400e" opacity="0.5"/>
<rect x="221.2" y="297.9" width="1.2" height="61.7" fill="#000" opacity="0.3"/>
<path d="M219.8,307.9 L220.5,308.9 L220.5,349.9 L217.5,351.9 L214.5,344.9 L213.1,333.9 L214.5,325.9 L217.5,317.9 Z" fill="#4aa82c" opacity="0.8" filter="url(#b1)"/>
<path d="M219.8,309.9 L220.5,310.9 L220.5,339.9 L217.5,343.9 L213.5,335.9 L215.0,326.9 L218.0,318.9 Z" fill="#78ec40" opacity="1" filter="url(#b05)"/>
<ellipse cx="219.4" cy="317.9" rx="1.3" ry="1.7" fill="#7cf040" opacity="0.94" filter="url(#b05)"/>
<ellipse cx="219.5" cy="333.1" rx="1.2" ry="1.1" fill="#58b834" opacity="0.73" filter="url(#b05)"/>
<ellipse cx="219.9" cy="331.9" rx="1.0" ry="1.5" fill="#3e9426" opacity="0.87" filter="url(#b05)"/>
<ellipse cx="217.6" cy="323.9" rx="0.9" ry="1.7" fill="#58b834" opacity="0.78" filter="url(#b05)"/>
<ellipse cx="213.8" cy="332.5" rx="1.0" ry="1.0" fill="#7cf040" opacity="0.82" filter="url(#b05)"/>
<ellipse cx="213.9" cy="333.3" rx="1.2" ry="2.0" fill="#6cd838" opacity="0.77" filter="url(#b05)"/>
<ellipse cx="216.9" cy="330.1" rx="1.0" ry="0.9" fill="#6cd838" opacity="0.71" filter="url(#b05)"/>
<ellipse cx="219.2" cy="335.3" rx="1.0" ry="1.5" fill="#6cd838" opacity="0.77" filter="url(#b05)"/>
<ellipse cx="217.4" cy="348.7" rx="1.3" ry="1.0" fill="#6cd838" opacity="0.87" filter="url(#b05)"/>
<ellipse cx="219.7" cy="340.6" rx="0.8" ry="1.0" fill="#74e43c" opacity="0.68" filter="url(#b05)"/>
<ellipse cx="217.8" cy="346.5" rx="1.2" ry="1.5" fill="#74e43c" opacity="0.72" filter="url(#b05)"/>
<ellipse cx="216.9" cy="328.1" rx="1.1" ry="1.4" fill="#74e43c" opacity="0.80" filter="url(#b05)"/>
<ellipse cx="220.0" cy="345.4" rx="0.8" ry="1.2" fill="#7cf040" opacity="0.88" filter="url(#b05)"/>
<ellipse cx="217.4" cy="334.5" rx="0.8" ry="0.8" fill="#64c83a" opacity="0.85" filter="url(#b05)"/>
<rect x="211.7" y="297.9" width="1.6" height="61.7" fill="#c0e4a8"/>
<rect x="219.9" y="297.9" width="1.4" height="61.7" fill="#c4d8b0"/>
<rect x="202.5" y="297.9" width="29.4" height="1" fill="#0c1804" opacity="0.6"/>
</g>
<line x1="300.00" y1="240.40" x2="300.00" y2="352.40" stroke="#000" stroke-width="1.6"/>
<line x1="299.20" y1="351.60" x2="464.80" y2="351.60" stroke="#000" stroke-width="1.6"/>
<line x1="294.50" y1="351.60" x2="300.00" y2="351.60" stroke="#000" stroke-width="1.6"/>
<text x="290.60" y="356.10" font-size="12.8" fill="#303030" text-anchor="end" >0</text>
<line x1="294.50" y1="333.87" x2="300.00" y2="333.87" stroke="#000" stroke-width="1.6"/>
<text x="290.60" y="338.37" font-size="12.8" fill="#303030" text-anchor="end" >5</text>
<line x1="294.50" y1="316.14" x2="300.00" y2="316.14" stroke="#000" stroke-width="1.6"/>
<text x="290.60" y="320.64" font-size="12.8" fill="#303030" text-anchor="end" >10</text>
<line x1="294.50" y1="298.41" x2="300.00" y2="298.41" stroke="#000" stroke-width="1.6"/>
<text x="290.60" y="302.91" font-size="12.8" fill="#303030" text-anchor="end" >15</text>
<line x1="294.50" y1="280.68" x2="300.00" y2="280.68" stroke="#000" stroke-width="1.6"/>
<text x="290.60" y="285.18" font-size="12.8" fill="#303030" text-anchor="end" >20</text>
<line x1="294.50" y1="262.95" x2="300.00" y2="262.95" stroke="#000" stroke-width="1.6"/>
<text x="290.60" y="267.45" font-size="12.8" fill="#303030" text-anchor="end" >25</text>
<line x1="294.50" y1="245.22" x2="300.00" y2="245.22" stroke="#000" stroke-width="1.6"/>
<text x="290.60" y="249.72" font-size="12.8" fill="#303030" text-anchor="end" >30</text>
<text x="0" y="0" font-size="12.8" fill="#303030" text-anchor="middle" textLength="105" lengthAdjust="spacingAndGlyphs" stroke="#303030" stroke-width="0.45" transform="translate(267.50,296.60) rotate(-90)">Time to occlusion (min)</text>
<line x1="344.00" y1="234.20" x2="401.90" y2="234.20" stroke="#000" stroke-width="1.6"/>
<text x="377.20" y="227.80" font-size="11.8" fill="#303030" text-anchor="middle" textLength="34.6" lengthAdjust="spacingAndGlyphs" >P&lt;0.05</text>
<circle cx="345.9" cy="291.2" r="2.4" fill="#2b3d70"/>
<circle cx="336.1" cy="298.2" r="2.4" fill="#2b3d70"/>
<circle cx="342.5" cy="297.9" r="2.4" fill="#2b3d70"/>
<circle cx="349" cy="297.9" r="2.4" fill="#2b3d70"/>
<circle cx="356" cy="298.2" r="2.4" fill="#2b3d70"/>
<circle cx="339.2" cy="305.6" r="2.4" fill="#2b3d70"/>
<circle cx="351.9" cy="305.6" r="2.4" fill="#2b3d70"/>
<circle cx="345.9" cy="309.4" r="2.4" fill="#2b3d70"/>
<circle cx="333.5" cy="301.5" r="2.4" fill="#2b3d70"/>
<circle cx="358.5" cy="301.5" r="2.4" fill="#2b3d70"/>
<line x1="322.50" y1="301.00" x2="368.70" y2="301.00" stroke="#000" stroke-width="1.8"/>
<line x1="335.00" y1="303.00" x2="357.00" y2="303.00" stroke="#000" stroke-width="1.4"/>
<rect x="412.0" y="242.3" width="5.0" height="5.0" fill="#a00c38"/>
<rect x="412.0" y="270.6" width="5.0" height="5.0" fill="#a00c38"/>
<rect x="415.8" y="273.5" width="5.0" height="5.0" fill="#a00c38"/>
<rect x="409.4" y="277.5" width="5.0" height="5.0" fill="#a00c38"/>
<rect x="406.0" y="281.5" width="5.0" height="5.0" fill="#a00c38"/>
<rect x="419.2" y="281.9" width="5.0" height="5.0" fill="#a00c38"/>
<rect x="412.3" y="285.6" width="5.0" height="5.0" fill="#a00c38"/>
<rect x="405.7" y="295.7" width="5.0" height="5.0" fill="#a00c38"/>
<rect x="412.3" y="299.4" width="5.0" height="5.0" fill="#a00c38"/>
<rect x="418.7" y="299.4" width="5.0" height="5.0" fill="#a00c38"/>
<line x1="392.00" y1="283.70" x2="437.50" y2="283.70" stroke="#000" stroke-width="1.8"/>
<line x1="403.30" y1="278.00" x2="426.70" y2="278.00" stroke="#000" stroke-width="1.6"/>
<line x1="403.30" y1="288.70" x2="426.70" y2="288.70" stroke="#000" stroke-width="1.6"/>
<line x1="414.80" y1="278.00" x2="414.80" y2="288.70" stroke="#000" stroke-width="1.4"/>
<text x="345.70" y="367.00" font-size="12" fill="#303030" text-anchor="middle" textLength="37.5" lengthAdjust="spacingAndGlyphs" >Control</text>
<text x="345.70" y="379.10" font-size="12" fill="#303030" text-anchor="middle" textLength="42.3" lengthAdjust="spacingAndGlyphs" >(vehicle)</text>
<text x="415.00" y="367.00" font-size="12" fill="#303030" text-anchor="middle" textLength="24.5" lengthAdjust="spacingAndGlyphs" >DCA</text>
<text x="415.00" y="379.10" font-size="12" fill="#303030" text-anchor="middle" textLength="65.5" lengthAdjust="spacingAndGlyphs" >(600 mg/Kg)</text>
<text x="10.60" y="422.40" font-size="17.2" fill="#000" font-weight="bold" stroke="#000" stroke-width="0.7">D</text>
<text x="248.60" y="418.80" font-size="11" fill="#2a2a2a" textLength="92.4" lengthAdjust="spacingAndGlyphs" >Laser injury model</text>
<line x1="248.60" y1="420.80" x2="341.00" y2="420.80" stroke="#2a2a2a" stroke-width="0.9"/>
<text x="25.50" y="467.00" font-size="12" fill="#303030" textLength="37.5" lengthAdjust="spacingAndGlyphs" >Control</text>
<text x="25.50" y="481.25" font-size="12" fill="#303030" textLength="41.5" lengthAdjust="spacingAndGlyphs" >(vehicle)</text>
<text x="34.50" y="550.00" font-size="12" fill="#303030" textLength="24.2" lengthAdjust="spacingAndGlyphs" >DCA</text>
<text x="97.00" y="606.70" font-size="12.5" fill="#303030" text-anchor="middle" >0</text>
<text x="136.80" y="606.70" font-size="12.5" fill="#303030" text-anchor="middle" >10</text>
<text x="175.30" y="606.70" font-size="12.5" fill="#303030" text-anchor="middle" >20</text>
<text x="214.70" y="606.70" font-size="12.5" fill="#303030" text-anchor="middle" >40</text>
<text x="140.20" y="626.20" font-size="13.6" fill="#303030" textLength="19.2" lengthAdjust="spacingAndGlyphs" stroke="#1a1a1a" stroke-width="0.45">Time</text>
<text x="164.00" y="626.20" font-size="13.6" fill="#303030" textLength="11.6" lengthAdjust="spacingAndGlyphs" stroke="#1a1a1a" stroke-width="0.45">(s)</text>
<svg x="76.0" y="434.6" width="36.5" height="76.9" overflow="hidden"><g transform="translate(-76.0,-434.6)">
<rect x="76.0" y="434.6" width="36.5" height="76.9" fill="#0e1a0a"/>
<ellipse cx="105" cy="470" rx="6" ry="30" fill="#2f6a1c" opacity="0.25" filter="url(#b3)"/>
<ellipse cx="82" cy="490" rx="6" ry="20" fill="#2f6a1c" opacity="0.2" filter="url(#b3)"/>
<ellipse cx="95" cy="445" rx="8" ry="10" fill="#2f6a1c" opacity="0.25" filter="url(#b3)"/>
<circle cx="81.6" cy="499.1" r="0.8" fill="#3c8a26" opacity="0.40"/>
<circle cx="94.1" cy="469.3" r="0.7" fill="#3c8a26" opacity="0.62"/>
<circle cx="80.2" cy="437.7" r="0.8" fill="#3c8a26" opacity="0.47"/>
<circle cx="103.3" cy="435.8" r="0.6" fill="#3c8a26" opacity="0.59"/>
<circle cx="84.9" cy="506.4" r="0.9" fill="#3c8a26" opacity="0.31"/>
<circle cx="77.9" cy="476.2" r="0.9" fill="#3c8a26" opacity="0.45"/>
<circle cx="84.5" cy="467.2" r="0.4" fill="#3c8a26" opacity="0.39"/>
<circle cx="92.1" cy="472.7" r="0.5" fill="#3c8a26" opacity="0.39"/>
<circle cx="84.5" cy="470.0" r="0.5" fill="#3c8a26" opacity="0.31"/>
<circle cx="105.9" cy="477.3" r="0.7" fill="#3c8a26" opacity="0.37"/>
<circle cx="111.2" cy="500.0" r="0.5" fill="#3c8a26" opacity="0.43"/>
<circle cx="101.9" cy="488.9" r="0.9" fill="#3c8a26" opacity="0.47"/>
<line x1="90.3" y1="438" x2="92.2" y2="507.4" stroke="#d4e0cc" stroke-width="1.3"/>
<line x1="99.4" y1="438" x2="101.7" y2="507.4" stroke="#d4e0cc" stroke-width="1.3"/>
</g></svg>
<svg x="115.2" y="434.6" width="37.0" height="76.9" overflow="hidden"><g transform="translate(-115.2,-434.6)">
<rect x="115.2" y="434.6" width="37.0" height="76.9" fill="#0e1a0a"/>
<ellipse cx="148" cy="470" rx="4" ry="45" fill="#2f6a1c" opacity="0.6" filter="url(#b3)"/>
<ellipse cx="120" cy="497" rx="6" ry="14" fill="#2f6a1c" opacity="0.5" filter="url(#b3)"/>
<ellipse cx="122" cy="450" rx="4" ry="14" fill="#2f6a1c" opacity="0.3" filter="url(#b3)"/>
<ellipse cx="135" cy="500" rx="4" ry="10" fill="#2f6a1c" opacity="0.25" filter="url(#b3)"/>
<circle cx="149.7" cy="506.6" r="0.4" fill="#3c8a26" opacity="0.33"/>
<circle cx="145.4" cy="490.7" r="0.7" fill="#3c8a26" opacity="0.42"/>
<circle cx="137.4" cy="481.0" r="0.7" fill="#3c8a26" opacity="0.36"/>
<circle cx="131.3" cy="465.1" r="0.8" fill="#3c8a26" opacity="0.70"/>
<circle cx="149.4" cy="476.4" r="0.6" fill="#3c8a26" opacity="0.41"/>
<circle cx="117.5" cy="437.7" r="0.6" fill="#3c8a26" opacity="0.43"/>
<circle cx="129.5" cy="502.4" r="0.7" fill="#3c8a26" opacity="0.52"/>
<circle cx="124.5" cy="437.4" r="0.6" fill="#3c8a26" opacity="0.35"/>
<circle cx="134.1" cy="510.4" r="0.7" fill="#3c8a26" opacity="0.37"/>
<circle cx="147.5" cy="495.3" r="0.8" fill="#3c8a26" opacity="0.66"/>
<circle cx="142.9" cy="494.8" r="0.6" fill="#3c8a26" opacity="0.69"/>
<circle cx="149.9" cy="447.7" r="0.8" fill="#3c8a26" opacity="0.59"/>
<line x1="128.3" y1="437.4" x2="130.5" y2="506.7" stroke="#d4e0cc" stroke-width="1.3"/>
<line x1="138" y1="437.4" x2="140" y2="506.7" stroke="#d4e0cc" stroke-width="1.3"/>
<path d="M135.9,472.7 L135.8,473.1 L135.4,473.5 L135.2,474.2 L134.3,473.9 L133.5,474.3 L133.0,473.7 L131.9,473.8 L131.4,473.3 L131.9,472.7 L131.9,472.2 L131.8,471.6 L132.7,471.4 L133.6,471.5 L134.2,471.7 L134.8,471.8 L135.7,471.8 L135.3,472.4 Z" fill="#5fd83a" opacity="0.55" filter="url(#b1)"/>
<path d="M135.9,472.7 L135.8,473.1 L135.4,473.5 L135.2,474.2 L134.3,473.9 L133.5,474.3 L133.0,473.7 L131.9,473.8 L131.4,473.3 L131.9,472.7 L131.9,472.2 L131.8,471.6 L132.7,471.4 L133.6,471.5 L134.2,471.7 L134.8,471.8 L135.7,471.8 L135.3,472.4 Z" fill="#86f24c" filter="url(#b05)"/>
<ellipse cx="134.3" cy="472.7" rx="0.9" ry="0.6" fill="#a8ff70" opacity="0.8" filter="url(#b05)"/>
</g></svg>
<svg x="155.5" y="434.6" width="35.0" height="76.9" overflow="hidden"><g transform="translate(-155.5,-434.6)">
<rect x="155.5" y="434.6" width="35.0" height="76.9" fill="#0e1a0a"/>
<ellipse cx="184" cy="468" rx="5" ry="32" fill="#2f6a1c" opacity="0.45" filter="url(#b3)"/>
<ellipse cx="160" cy="470" rx="4" ry="30" fill="#2f6a1c" opacity="0.3" filter="url(#b3)"/>
<ellipse cx="170" cy="500" rx="6" ry="10" fill="#2f6a1c" opacity="0.3" filter="url(#b3)"/>
<ellipse cx="172" cy="440" rx="6" ry="5" fill="#2f6a1c" opacity="0.3" filter="url(#b3)"/>
<circle cx="164.4" cy="476.4" r="0.6" fill="#3c8a26" opacity="0.54"/>
<circle cx="177.1" cy="440.5" r="0.4" fill="#3c8a26" opacity="0.63"/>
<circle cx="165.1" cy="453.2" r="0.9" fill="#3c8a26" opacity="0.49"/>
<circle cx="184.1" cy="471.3" r="0.7" fill="#3c8a26" opacity="0.36"/>
<circle cx="177.5" cy="500.6" r="0.7" fill="#3c8a26" opacity="0.60"/>
<circle cx="178.7" cy="440.4" r="0.8" fill="#3c8a26" opacity="0.54"/>
<circle cx="166.4" cy="437.9" r="0.8" fill="#3c8a26" opacity="0.49"/>
<circle cx="180.2" cy="501.4" r="0.8" fill="#3c8a26" opacity="0.67"/>
<circle cx="169.5" cy="495.6" r="0.6" fill="#3c8a26" opacity="0.67"/>
<circle cx="185.5" cy="442.9" r="0.5" fill="#3c8a26" opacity="0.39"/>
<circle cx="188.4" cy="468.3" r="0.7" fill="#3c8a26" opacity="0.42"/>
<circle cx="173.2" cy="464.5" r="0.6" fill="#3c8a26" opacity="0.53"/>
<line x1="165.5" y1="437.4" x2="167.4" y2="506" stroke="#d4e0cc" stroke-width="1.3"/>
<line x1="174.6" y1="437.4" x2="176.9" y2="506" stroke="#d4e0cc" stroke-width="1.3"/>
<path d="M176.2,474.3 L176.8,475.6 L175.4,476.3 L174.7,477.5 L172.9,477.8 L171.2,478.1 L169.9,477.0 L169.9,475.6 L167.5,475.5 L166.9,474.3 L167.4,473.0 L169.0,472.4 L169.9,471.5 L171.6,472.2 L172.9,470.8 L174.1,471.7 L174.5,472.8 L174.5,473.7 Z" fill="#5fd83a" opacity="0.55" filter="url(#b1)"/>
<path d="M176.2,474.3 L176.8,475.6 L175.4,476.3 L174.7,477.5 L172.9,477.8 L171.2,478.1 L169.9,477.0 L169.9,475.6 L167.5,475.5 L166.9,474.3 L167.4,473.0 L169.0,472.4 L169.9,471.5 L171.6,472.2 L172.9,470.8 L174.1,471.7 L174.5,472.8 L174.5,473.7 Z" fill="#86f24c" filter="url(#b05)"/>
<ellipse cx="172.9" cy="474.3" rx="1.7" ry="1.2" fill="#a8ff70" opacity="0.8" filter="url(#b05)"/>
</g></svg>
<svg x="193.3" y="434.6" width="36.7" height="76.9" overflow="hidden"><g transform="translate(-193.3,-434.6)">
<rect x="193.3" y="434.6" width="36.7" height="76.9" fill="#0f1e0b"/>
<ellipse cx="223" cy="465" rx="6" ry="40" fill="#2f6a1c" opacity="0.8" filter="url(#b3)"/>
<ellipse cx="198" cy="460" rx="5" ry="30" fill="#2f6a1c" opacity="0.6" filter="url(#b3)"/>
<ellipse cx="211" cy="442" rx="7" ry="8" fill="#2f6a1c" opacity="0.5" filter="url(#b3)"/>
<ellipse cx="205" cy="502" rx="8" ry="10" fill="#2f6a1c" opacity="0.5" filter="url(#b3)"/>
<circle cx="202.5" cy="443.3" r="0.6" fill="#3c8a26" opacity="0.36"/>
<circle cx="196.6" cy="465.7" r="0.9" fill="#3c8a26" opacity="0.62"/>
<circle cx="220.9" cy="452.2" r="0.7" fill="#3c8a26" opacity="0.41"/>
<circle cx="200.3" cy="443.6" r="0.5" fill="#3c8a26" opacity="0.67"/>
<circle cx="223.1" cy="496.0" r="0.8" fill="#3c8a26" opacity="0.38"/>
<circle cx="205.1" cy="482.6" r="0.8" fill="#3c8a26" opacity="0.64"/>
<circle cx="224.8" cy="442.1" r="0.7" fill="#3c8a26" opacity="0.57"/>
<circle cx="211.9" cy="448.9" r="0.6" fill="#3c8a26" opacity="0.34"/>
<circle cx="226.7" cy="500.4" r="0.7" fill="#3c8a26" opacity="0.42"/>
<circle cx="225.8" cy="478.5" r="0.8" fill="#3c8a26" opacity="0.64"/>
<circle cx="211.9" cy="466.6" r="0.7" fill="#3c8a26" opacity="0.47"/>
<circle cx="199.9" cy="458.5" r="0.8" fill="#3c8a26" opacity="0.32"/>
<line x1="204" y1="437.4" x2="206.6" y2="506" stroke="#d4e0cc" stroke-width="1.3"/>
<line x1="213.8" y1="437.4" x2="215.8" y2="506" stroke="#d4e0cc" stroke-width="1.3"/>
<path d="M213.1,472.0 L214.7,473.3 L213.0,473.8 L212.5,475.0 L211.0,475.2 L209.6,474.9 L207.3,476.1 L207.8,473.7 L206.6,473.1 L207.0,472.0 L205.9,470.7 L207.6,470.2 L208.4,469.4 L209.4,468.0 L210.9,469.1 L212.5,468.9 L214.6,469.1 L213.1,471.2 Z" fill="#5fd83a" opacity="0.55" filter="url(#b1)"/>
<path d="M213.1,472.0 L214.7,473.3 L213.0,473.8 L212.5,475.0 L211.0,475.2 L209.6,474.9 L207.3,476.1 L207.8,473.7 L206.6,473.1 L207.0,472.0 L205.9,470.7 L207.6,470.2 L208.4,469.4 L209.4,468.0 L210.9,469.1 L212.5,468.9 L214.6,469.1 L213.1,471.2 Z" fill="#86f24c" filter="url(#b05)"/>
<ellipse cx="211.2" cy="472.0" rx="1.9" ry="1.5" fill="#a8ff70" opacity="0.8" filter="url(#b05)"/>
</g></svg>
<svg x="76.5" y="515.6" width="36.0" height="76.1" overflow="hidden"><g transform="translate(-76.5,-515.6)">
<rect x="76.5" y="515.6" width="36.0" height="76.1" fill="#0c1609"/>
<ellipse cx="105" cy="545" rx="5" ry="20" fill="#2f6a1c" opacity="0.2" filter="url(#b3)"/>
<circle cx="98.7" cy="571.6" r="0.8" fill="#3c8a26" opacity="0.68"/>
<circle cx="102.7" cy="584.9" r="0.4" fill="#3c8a26" opacity="0.49"/>
<circle cx="109.6" cy="564.7" r="0.9" fill="#3c8a26" opacity="0.35"/>
<circle cx="93.4" cy="534.9" r="0.7" fill="#3c8a26" opacity="0.53"/>
<circle cx="77.9" cy="532.7" r="0.5" fill="#3c8a26" opacity="0.67"/>
<circle cx="103.5" cy="528.4" r="0.8" fill="#3c8a26" opacity="0.36"/>
<circle cx="98.5" cy="526.0" r="0.4" fill="#3c8a26" opacity="0.65"/>
<circle cx="84.6" cy="532.6" r="0.9" fill="#3c8a26" opacity="0.65"/>
<circle cx="87.3" cy="587.8" r="0.7" fill="#3c8a26" opacity="0.57"/>
<circle cx="84.5" cy="586.3" r="0.7" fill="#3c8a26" opacity="0.69"/>
<circle cx="107.9" cy="538.7" r="0.6" fill="#3c8a26" opacity="0.37"/>
<circle cx="82.5" cy="521.4" r="0.6" fill="#3c8a26" opacity="0.54"/>
<line x1="88" y1="519.7" x2="90.3" y2="590.6" stroke="#d4e0cc" stroke-width="1.3"/>
<line x1="97.1" y1="519.7" x2="100" y2="590.6" stroke="#d4e0cc" stroke-width="1.3"/>
</g></svg>
<svg x="115.1" y="515.6" width="36.6" height="76.1" overflow="hidden"><g transform="translate(-115.1,-515.6)">
<rect x="115.1" y="515.6" width="36.6" height="76.1" fill="#0c1609"/>
<ellipse cx="145" cy="550" rx="5" ry="30" fill="#2f6a1c" opacity="0.3" filter="url(#b3)"/>
<circle cx="143.5" cy="577.5" r="0.6" fill="#3c8a26" opacity="0.40"/>
<circle cx="116.1" cy="565.7" r="0.6" fill="#3c8a26" opacity="0.60"/>
<circle cx="129.0" cy="573.7" r="0.5" fill="#3c8a26" opacity="0.62"/>
<circle cx="141.4" cy="547.3" r="0.7" fill="#3c8a26" opacity="0.57"/>
<circle cx="122.8" cy="557.6" r="0.8" fill="#3c8a26" opacity="0.41"/>
<circle cx="143.9" cy="567.4" r="0.8" fill="#3c8a26" opacity="0.43"/>
<circle cx="119.3" cy="575.9" r="0.8" fill="#3c8a26" opacity="0.48"/>
<circle cx="119.3" cy="531.2" r="0.7" fill="#3c8a26" opacity="0.42"/>
<circle cx="149.0" cy="560.2" r="0.5" fill="#3c8a26" opacity="0.56"/>
<circle cx="128.6" cy="585.7" r="0.9" fill="#3c8a26" opacity="0.51"/>
<circle cx="138.4" cy="568.3" r="0.8" fill="#3c8a26" opacity="0.69"/>
<circle cx="117.1" cy="543.4" r="0.7" fill="#3c8a26" opacity="0.42"/>
<line x1="126.2" y1="519.7" x2="128.8" y2="590.6" stroke="#d4e0cc" stroke-width="1.3"/>
<line x1="136" y1="519.7" x2="138.6" y2="590.6" stroke="#d4e0cc" stroke-width="1.3"/>
<path d="M132.5,557.2 L132.0,557.4 L132.4,558.0 L131.8,558.1 L131.3,557.9 L130.8,558.3 L130.5,557.9 L130.3,557.7 L129.8,557.5 L130.1,557.2 L130.1,556.9 L129.8,556.4 L130.3,556.2 L131.0,556.6 L131.4,556.0 L131.5,556.7 L132.0,556.6 L132.8,556.8 Z" fill="#5fd83a" opacity="0.55" filter="url(#b1)"/>
<path d="M132.5,557.2 L132.0,557.4 L132.4,558.0 L131.8,558.1 L131.3,557.9 L130.8,558.3 L130.5,557.9 L130.3,557.7 L129.8,557.5 L130.1,557.2 L130.1,556.9 L129.8,556.4 L130.3,556.2 L131.0,556.6 L131.4,556.0 L131.5,556.7 L132.0,556.6 L132.8,556.8 Z" fill="#86f24c" filter="url(#b05)"/>
<ellipse cx="131.4" cy="557.2" rx="0.6" ry="0.4" fill="#a8ff70" opacity="0.8" filter="url(#b05)"/>
</g></svg>
<svg x="155.0" y="515.6" width="35.3" height="76.1" overflow="hidden"><g transform="translate(-155.0,-515.6)">
<rect x="155.0" y="515.6" width="35.3" height="76.1" fill="#0c1609"/>
<ellipse cx="185" cy="560" rx="4" ry="20" fill="#2f6a1c" opacity="0.3" filter="url(#b3)"/>
<circle cx="166.8" cy="527.8" r="0.7" fill="#3c8a26" opacity="0.33"/>
<circle cx="173.8" cy="543.7" r="0.4" fill="#3c8a26" opacity="0.50"/>
<circle cx="157.2" cy="548.7" r="0.4" fill="#3c8a26" opacity="0.34"/>
<circle cx="170.1" cy="577.9" r="0.5" fill="#3c8a26" opacity="0.39"/>
<circle cx="176.9" cy="586.8" r="0.7" fill="#3c8a26" opacity="0.46"/>
<circle cx="188.5" cy="520.1" r="0.8" fill="#3c8a26" opacity="0.42"/>
<circle cx="160.8" cy="525.3" r="0.6" fill="#3c8a26" opacity="0.63"/>
<circle cx="162.0" cy="559.7" r="0.7" fill="#3c8a26" opacity="0.45"/>
<circle cx="174.2" cy="521.3" r="0.4" fill="#3c8a26" opacity="0.38"/>
<circle cx="178.7" cy="548.3" r="0.6" fill="#3c8a26" opacity="0.53"/>
<circle cx="171.1" cy="538.8" r="0.8" fill="#3c8a26" opacity="0.58"/>
<circle cx="164.1" cy="559.2" r="0.7" fill="#3c8a26" opacity="0.65"/>
<line x1="168" y1="519.7" x2="169.7" y2="590.6" stroke="#d4e0cc" stroke-width="1.3"/>
<line x1="176.9" y1="519.7" x2="179.5" y2="590.6" stroke="#d4e0cc" stroke-width="1.3"/>
<path d="M175.6,555.3 L174.9,556.1 L175.4,557.9 L174.1,557.1 L173.8,558.0 L173.1,558.8 L172.8,557.1 L172.1,557.2 L172.4,555.9 L171.5,555.3 L171.5,554.1 L172.0,553.3 L172.3,552.0 L173.2,552.8 L173.9,552.0 L174.5,552.6 L175.0,553.3 L175.1,554.3 Z" fill="#5fd83a" opacity="0.55" filter="url(#b1)"/>
<path d="M175.6,555.3 L174.9,556.1 L175.4,557.9 L174.1,557.1 L173.8,558.0 L173.1,558.8 L172.8,557.1 L172.1,557.2 L172.4,555.9 L171.5,555.3 L171.5,554.1 L172.0,553.3 L172.3,552.0 L173.2,552.8 L173.9,552.0 L174.5,552.6 L175.0,553.3 L175.1,554.3 Z" fill="#86f24c" filter="url(#b05)"/>
<ellipse cx="173.9" cy="555.3" rx="0.8" ry="1.3" fill="#a8ff70" opacity="0.8" filter="url(#b05)"/>
</g></svg>
<svg x="194.2" y="515.6" width="36.0" height="76.1" overflow="hidden"><g transform="translate(-194.2,-515.6)">
<rect x="194.2" y="515.6" width="36.0" height="76.1" fill="#0c1609"/>
<ellipse cx="222" cy="545" rx="5" ry="30" fill="#2f6a1c" opacity="0.35" filter="url(#b3)"/>
<circle cx="202.9" cy="587.9" r="0.5" fill="#3c8a26" opacity="0.58"/>
<circle cx="198.1" cy="534.9" r="0.9" fill="#3c8a26" opacity="0.38"/>
<circle cx="217.0" cy="550.6" r="0.6" fill="#3c8a26" opacity="0.50"/>
<circle cx="201.7" cy="578.1" r="0.4" fill="#3c8a26" opacity="0.39"/>
<circle cx="195.9" cy="536.4" r="0.6" fill="#3c8a26" opacity="0.66"/>
<circle cx="208.1" cy="525.0" r="0.5" fill="#3c8a26" opacity="0.70"/>
<circle cx="197.3" cy="562.6" r="0.6" fill="#3c8a26" opacity="0.56"/>
<circle cx="206.7" cy="567.8" r="0.6" fill="#3c8a26" opacity="0.56"/>
<circle cx="225.8" cy="559.7" r="0.5" fill="#3c8a26" opacity="0.33"/>
<circle cx="227.4" cy="552.8" r="0.5" fill="#3c8a26" opacity="0.68"/>
<circle cx="214.9" cy="570.6" r="0.8" fill="#3c8a26" opacity="0.41"/>
<circle cx="207.3" cy="581.7" r="0.5" fill="#3c8a26" opacity="0.61"/>
<line x1="204.7" y1="519.7" x2="206.6" y2="590.6" stroke="#d4e0cc" stroke-width="1.3"/>
<line x1="213.8" y1="519.7" x2="216.1" y2="590.6" stroke="#d4e0cc" stroke-width="1.3"/>
<path d="M211.3,552.5 L212.1,553.6 L211.7,554.7 L211.3,555.9 L210.3,556.2 L209.5,555.4 L209.1,554.4 L208.8,553.9 L208.0,553.5 L207.9,552.5 L208.6,551.8 L207.9,550.0 L208.9,550.0 L209.5,549.2 L210.2,550.2 L210.7,550.5 L210.9,551.3 L211.6,551.6 Z" fill="#5fd83a" opacity="0.55" filter="url(#b1)"/>
<path d="M211.3,552.5 L212.1,553.6 L211.7,554.7 L211.3,555.9 L210.3,556.2 L209.5,555.4 L209.1,554.4 L208.8,553.9 L208.0,553.5 L207.9,552.5 L208.6,551.8 L207.9,550.0 L208.9,550.0 L209.5,549.2 L210.2,550.2 L210.7,550.5 L210.9,551.3 L211.6,551.6 Z" fill="#86f24c" filter="url(#b05)"/>
<ellipse cx="210.3" cy="552.5" rx="0.9" ry="1.3" fill="#a8ff70" opacity="0.8" filter="url(#b05)"/>
</g></svg>
<path d="M305.0,570.0 L306.0,570.0 L306.0,569.5 L307.0,569.5 L307.0,567.9 L308.0,567.9 L308.0,564.0 L309.0,564.0 L309.0,563.7 L310.0,563.7 L310.0,561.6 L311.0,561.6 L311.0,559.9 L312.0,559.9 L312.0,557.3 L313.0,557.3 L313.0,555.5 L314.0,555.5 L314.0,552.5 L315.0,552.5 L315.0,549.1 L316.0,549.1 L316.0,547.0 L317.0,547.0 L317.0,544.8 L318.0,544.8 L318.0,541.6 L319.0,541.6 L319.0,541.2 L320.0,541.2 L320.0,538.5 L321.0,538.5 L321.0,536.1 L322.0,536.1 L322.0,533.7 L323.0,533.7 L323.0,533.6 L324.0,533.6 L324.0,532.6 L325.0,532.6 L325.0,531.7 L326.0,531.7 L326.0,532.0 L327.0,532.0 L327.0,529.8 L328.0,529.8 L328.0,530.4 L329.0,530.4 L329.0,528.7 L330.0,528.7 L330.0,528.0 L331.0,528.0 L331.0,527.1 L332.0,527.1 L332.0,526.6 L333.0,526.6 L333.0,525.0 L334.0,525.0 L334.0,524.5 L335.0,524.5 L335.0,523.0 L336.0,523.0 L336.0,520.6 L337.0,520.6 L337.0,520.4 L338.0,520.4 L338.0,520.1 L339.0,520.1 L339.0,519.0 L340.0,519.0 L340.0,516.6 L341.0,516.6 L341.0,517.7 L342.0,517.7 L342.0,517.0 L343.0,517.0 L343.0,516.3 L344.0,516.3 L344.0,516.9 L345.0,516.9 L345.0,514.7 L346.0,514.7 L346.0,515.2 L347.0,515.2 L347.0,514.9 L348.0,514.9 L348.0,513.0 L349.0,513.0 L349.0,514.1 L350.0,514.1 L350.0,514.0 L351.0,514.0 L351.0,513.5 L352.0,513.5 L352.0,514.3 L353.0,514.3 L353.0,511.7 L354.0,511.7 L354.0,513.7 L355.0,513.7 L355.0,512.7 L356.0,512.7 L356.0,512.8 L357.0,512.8 L357.0,512.3 L358.0,512.3 L358.0,512.2 L359.0,512.2 L359.0,511.6 L360.0,511.6 L360.0,511.9 L361.0,511.9 L361.0,512.3 L362.0,512.3 L362.0,511.3 L363.0,511.3 L363.0,512.8 L364.0,512.8 L364.0,511.5 L365.0,511.5 L365.0,512.6 L366.0,512.6 L366.0,512.4 L367.0,512.4 L367.0,513.8 L368.0,513.8 L368.0,512.2 L369.0,512.2 L369.0,513.5 L370.0,513.5 L370.0,514.2 L371.0,514.2 L371.0,514.4 L372.0,514.4 L372.0,513.5 L373.0,513.5 L373.0,514.3 L374.0,514.3 L374.0,512.8 L375.0,512.8 L375.0,513.9 L376.0,513.9 L376.0,514.2 L377.0,514.2 L377.0,515.1 L378.0,515.1 L378.0,513.5 L379.0,513.5 L379.0,515.0 L380.0,515.0 L380.0,515.0 L381.0,515.0 L381.0,515.1 L382.0,515.1 L382.0,515.7 L383.0,515.7 L383.0,514.6 L384.0,514.6 L384.0,514.8 L385.0,514.8 L385.0,515.4 L386.0,515.4 L386.0,517.2 L387.0,517.2 L387.0,517.3 L388.0,517.3 L388.0,517.6 L389.0,517.6 L389.0,519.0 L390.0,519.0 L390.0,518.4 L391.0,518.4 L391.0,520.0 L392.0,520.0 L392.0,519.4 L393.0,519.4 L393.0,517.5 L394.0,517.5 L394.0,520.0 L395.0,520.0 L395.0,520.7 L396.0,520.7 L396.0,521.1 L397.0,521.1 L397.0,521.0 L398.0,521.0 L398.0,521.9 L399.0,521.9 L399.0,522.0 L400.0,522.0 L400.0,522.9 L401.0,522.9 L401.0,522.5 L402.0,522.5 L402.0,522.5 L403.0,522.5 L403.0,523.3 L404.0,523.3 L404.0,521.4 L405.0,521.4 L405.0,523.0 L406.0,523.0 L406.0,522.8 L407.0,522.8 L407.0,524.3 L408.0,524.3 L408.0,524.0 L409.0,524.0 L409.0,523.4 L410.0,523.4 L410.0,525.0 L411.0,525.0 L411.0,525.0 L412.0,525.0 L412.0,525.2 L413.0,525.2 L413.0,525.7 L414.0,525.7 L414.0,526.4 L415.0,526.4 L415.0,526.6 L416.0,526.6 L416.0,527.4 L417.0,527.4 L417.0,527.5 L418.0,527.5 L418.0,527.6 L419.0,527.6 L419.0,527.8 L420.0,527.8 L420.0,528.2 L421.0,528.2 L421.0,527.9 L422.0,527.9 L422.0,528.5 L423.0,528.5 L423.0,528.2 L424.0,528.2 L424.0,527.8 L425.0,527.8 L425.0,528.7 L426.0,528.7 L426.0,529.1 L427.0,529.1 L427.0,528.9 L428.0,528.9 L428.0,527.9 L429.0,527.9 L429.0,529.7 L430.0,529.7 L430.0,529.8 L431.0,529.8 L431.0,530.2 L432.0,530.2 L432.0,530.1 L433.0,530.1 L433.0,529.8 L434.0,529.8 L434.0,529.8 L435.0,529.8 L435.0,530.6 L436.0,530.6 L436.0,528.8 L437.0,528.8 L437.0,530.2 L438.0,530.2 L438.0,530.8 L439.0,530.8 L439.0,531.1 L440.0,531.1 L440.0,531.4 L441.0,531.4 L441.0,531.7 L442.0,531.7 L442.0,531.6 L443.0,531.6 L443.0,532.2 L444.0,532.2 L444.0,531.2 L445.0,531.2 L445.0,532.3 L446.0,532.3 L446.0,533.5 L447.0,533.5 L447.0,533.7 L448.0,533.7 L448.0,532.8 L449.0,532.8 L449.0,533.6 L450.0,533.6 L450.0,533.9 L451.0,533.9 L451.0,534.5 L452.0,534.5 L452.0,535.1 L453.0,535.1 L453.0,534.6 L454.0,534.6 L454.0,535.2 L455.0,535.2 L455.0,535.1 L456.0,535.1 L456.0,535.0 L457.0,535.0 L457.0,535.0 L458.0,535.0 L458.0,536.5 L459.0,536.5 L459.0,536.7 L460.0,536.7 L460.0,536.4 L461.0,536.4 L461.0,536.2 L462.0,536.2 L462.0,537.1 L463.0,537.1 L463.0,537.2 L464.0,537.2 L464.0,536.4 L465.0,536.4 L465.0,536.8 L466.0,536.8 L466.0,537.8 L467.0,537.8 L467.0,537.7 L468.0,537.7 L468.0,536.7 L469.0,536.7 L469.0,535.4 L470.0,535.4 L470.0,538.4 L471.0,538.4 L471.0,537.0 L472.0,537.0 L472.0,537.3 L473.0,537.3 L473.0,537.8 L474.0,537.8 L474.0,538.7 L475.0,538.7 L475.0,538.3 L476.0,538.3 L476.0,538.7 L477.0,538.7 L477.0,539.1 L478.0,539.1 L478.0,539.1 L479.0,539.1 L479.0,539.7 L480.0,539.7 L480.0,538.2 L481.0,538.2 L481.0,538.7 L482.0,538.7 L482.0,540.1 L483.0,540.1 L483.0,539.2 L484.0,539.2 L484.0,539.8 L485.0,539.8 L485.0,538.7 L486.0,538.7 L486.0,540.0 L487.0,540.0 L487.0,540.3 L487.7,540.3 L487.7,558.8 L487.0,558.8 L487.0,558.7 L486.0,558.7 L486.0,558.6 L485.0,558.6 L485.0,559.2 L484.0,559.2 L484.0,559.8 L483.0,559.8 L483.0,558.1 L482.0,558.1 L482.0,558.3 L481.0,558.3 L481.0,558.4 L480.0,558.4 L480.0,559.1 L479.0,559.1 L479.0,559.9 L478.0,559.9 L478.0,557.9 L477.0,557.9 L477.0,557.7 L476.0,557.7 L476.0,558.5 L475.0,558.5 L475.0,557.5 L474.0,557.5 L474.0,557.7 L473.0,557.7 L473.0,558.3 L472.0,558.3 L472.0,557.1 L471.0,557.1 L471.0,557.2 L470.0,557.2 L470.0,560.0 L469.0,560.0 L469.0,557.0 L468.0,557.0 L468.0,558.2 L467.0,558.2 L467.0,557.8 L466.0,557.8 L466.0,558.0 L465.0,558.0 L465.0,557.0 L464.0,557.0 L464.0,558.4 L463.0,558.4 L463.0,555.9 L462.0,555.9 L462.0,556.7 L461.0,556.7 L461.0,556.0 L460.0,556.0 L460.0,556.0 L459.0,556.0 L459.0,555.6 L458.0,555.6 L458.0,557.4 L457.0,557.4 L457.0,555.7 L456.0,555.7 L456.0,557.1 L455.0,557.1 L455.0,555.1 L454.0,555.1 L454.0,556.2 L453.0,556.2 L453.0,555.4 L452.0,555.4 L452.0,555.0 L451.0,555.0 L451.0,554.1 L450.0,554.1 L450.0,554.7 L449.0,554.7 L449.0,553.9 L448.0,553.9 L448.0,555.9 L447.0,555.9 L447.0,554.6 L446.0,554.6 L446.0,554.0 L445.0,554.0 L445.0,553.7 L444.0,553.7 L444.0,552.9 L443.0,552.9 L443.0,554.6 L442.0,554.6 L442.0,553.8 L441.0,553.8 L441.0,552.0 L440.0,552.0 L440.0,553.8 L439.0,553.8 L439.0,551.9 L438.0,551.9 L438.0,553.9 L437.0,553.9 L437.0,551.3 L436.0,551.3 L436.0,551.0 L435.0,551.0 L435.0,551.6 L434.0,551.6 L434.0,550.9 L433.0,550.9 L433.0,550.4 L432.0,550.4 L432.0,551.7 L431.0,551.7 L431.0,550.4 L430.0,550.4 L430.0,549.8 L429.0,549.8 L429.0,549.2 L428.0,549.2 L428.0,550.5 L427.0,550.5 L427.0,549.6 L426.0,549.6 L426.0,549.9 L425.0,549.9 L425.0,548.8 L424.0,548.8 L424.0,549.0 L423.0,549.0 L423.0,548.8 L422.0,548.8 L422.0,548.4 L421.0,548.4 L421.0,548.8 L420.0,548.8 L420.0,548.2 L419.0,548.2 L419.0,547.0 L418.0,547.0 L418.0,548.2 L417.0,548.2 L417.0,547.5 L416.0,547.5 L416.0,547.2 L415.0,547.2 L415.0,546.5 L414.0,546.5 L414.0,547.0 L413.0,547.0 L413.0,547.5 L412.0,547.5 L412.0,546.7 L411.0,546.7 L411.0,545.4 L410.0,545.4 L410.0,544.9 L409.0,544.9 L409.0,544.9 L408.0,544.9 L408.0,547.0 L407.0,547.0 L407.0,546.3 L406.0,546.3 L406.0,545.0 L405.0,545.0 L405.0,544.6 L404.0,544.6 L404.0,543.7 L403.0,543.7 L403.0,543.8 L402.0,543.8 L402.0,544.0 L401.0,544.0 L401.0,543.2 L400.0,543.2 L400.0,544.9 L399.0,544.9 L399.0,543.6 L398.0,543.6 L398.0,542.5 L397.0,542.5 L397.0,542.9 L396.0,542.9 L396.0,542.5 L395.0,542.5 L395.0,543.5 L394.0,543.5 L394.0,542.4 L393.0,542.4 L393.0,542.4 L392.0,542.4 L392.0,542.3 L391.0,542.3 L391.0,540.9 L390.0,540.9 L390.0,541.4 L389.0,541.4 L389.0,541.8 L388.0,541.8 L388.0,541.8 L387.0,541.8 L387.0,540.2 L386.0,540.2 L386.0,540.5 L385.0,540.5 L385.0,539.5 L384.0,539.5 L384.0,540.4 L383.0,540.4 L383.0,538.8 L382.0,538.8 L382.0,539.2 L381.0,539.2 L381.0,541.2 L380.0,541.2 L380.0,538.7 L379.0,538.7 L379.0,538.4 L378.0,538.4 L378.0,537.6 L377.0,537.6 L377.0,538.1 L376.0,538.1 L376.0,537.0 L375.0,537.0 L375.0,537.0 L374.0,537.0 L374.0,538.6 L373.0,538.6 L373.0,537.6 L372.0,537.6 L372.0,535.5 L371.0,535.5 L371.0,536.2 L370.0,536.2 L370.0,537.2 L369.0,537.2 L369.0,535.5 L368.0,535.5 L368.0,536.8 L367.0,536.8 L367.0,535.9 L366.0,535.9 L366.0,535.3 L365.0,535.3 L365.0,535.7 L364.0,535.7 L364.0,537.2 L363.0,537.2 L363.0,534.6 L362.0,534.6 L362.0,535.8 L361.0,535.8 L361.0,534.4 L360.0,534.4 L360.0,534.7 L359.0,534.7 L359.0,534.4 L358.0,534.4 L358.0,534.3 L357.0,534.3 L357.0,537.1 L356.0,537.1 L356.0,534.4 L355.0,534.4 L355.0,534.1 L354.0,534.1 L354.0,534.7 L353.0,534.7 L353.0,535.5 L352.0,535.5 L352.0,535.0 L351.0,535.0 L351.0,535.5 L350.0,535.5 L350.0,535.2 L349.0,535.2 L349.0,538.5 L348.0,538.5 L348.0,537.7 L347.0,537.7 L347.0,536.3 L346.0,536.3 L346.0,538.2 L345.0,538.2 L345.0,537.4 L344.0,537.4 L344.0,537.2 L343.0,537.2 L343.0,537.8 L342.0,537.8 L342.0,538.0 L341.0,538.0 L341.0,538.8 L340.0,538.8 L340.0,539.1 L339.0,539.1 L339.0,541.0 L338.0,541.0 L338.0,540.8 L337.0,540.8 L337.0,541.6 L336.0,541.6 L336.0,544.1 L335.0,544.1 L335.0,543.1 L334.0,543.1 L334.0,545.4 L333.0,545.4 L333.0,544.7 L332.0,544.7 L332.0,545.2 L331.0,545.2 L331.0,545.9 L330.0,545.9 L330.0,546.3 L329.0,546.3 L329.0,548.6 L328.0,548.6 L328.0,550.1 L327.0,550.1 L327.0,550.7 L326.0,550.7 L326.0,551.7 L325.0,551.7 L325.0,552.4 L324.0,552.4 L324.0,553.8 L323.0,553.8 L323.0,555.3 L322.0,555.3 L322.0,556.8 L321.0,556.8 L321.0,557.6 L320.0,557.6 L320.0,559.7 L319.0,559.7 L319.0,561.4 L318.0,561.4 L318.0,561.0 L317.0,561.0 L317.0,561.5 L316.0,561.5 L316.0,562.1 L315.0,562.1 L315.0,563.4 L314.0,563.4 L314.0,566.6 L313.0,566.6 L313.0,567.1 L312.0,567.1 L312.0,568.6 L311.0,568.6 L311.0,570.3 L310.0,570.3 L310.0,571.5 L309.0,571.5 L309.0,573.3 L308.0,573.3 L308.0,573.6 L307.0,573.6 L307.0,575.1 L306.0,575.1 L306.0,573.4 L305.0,573.4 Z" fill="#000"/>
<path d="M300.2,555.5 L301.2,555.5 L301.2,547.4 L302.2,547.4 L302.2,528.8 L303.2,528.8 L303.2,522.4 L304.2,522.4 L304.2,516.7 L305.2,516.7 L305.2,517.4 L306.2,517.4 L306.2,516.4 L307.2,516.4 L307.2,521.5 L308.2,521.5 L308.2,527.1 L309.2,527.1 L309.2,530.4 L310.2,530.4 L310.2,533.8 L311.2,533.8 L311.2,531.7 L312.2,531.7 L312.2,529.0 L313.2,529.0 L313.2,525.7 L314.2,525.7 L314.2,522.1 L315.2,522.1 L315.2,518.9 L316.2,518.9 L316.2,513.4 L317.2,513.4 L317.2,512.7 L318.2,512.7 L318.2,508.7 L319.2,508.7 L319.2,506.4 L320.2,506.4 L320.2,505.7 L321.2,505.7 L321.2,504.1 L322.2,504.1 L322.2,502.3 L323.2,502.3 L323.2,500.3 L324.2,500.3 L324.2,498.4 L325.2,498.4 L325.2,495.8 L326.2,495.8 L326.2,490.7 L327.2,490.7 L327.2,490.8 L328.2,490.8 L328.2,488.8 L329.2,488.8 L329.2,485.5 L330.2,485.5 L330.2,482.6 L331.2,482.6 L331.2,482.2 L332.2,482.2 L332.2,481.0 L333.2,481.0 L333.2,478.1 L334.2,478.1 L334.2,477.2 L335.2,477.2 L335.2,474.7 L336.2,474.7 L336.2,472.4 L337.2,472.4 L337.2,471.0 L338.2,471.0 L338.2,470.0 L339.2,470.0 L339.2,467.6 L340.2,467.6 L340.2,465.8 L341.2,465.8 L341.2,467.0 L342.2,467.0 L342.2,466.0 L343.2,466.0 L343.2,465.2 L344.2,465.2 L344.2,465.0 L345.2,465.0 L345.2,464.0 L346.2,464.0 L346.2,463.4 L347.2,463.4 L347.2,462.7 L348.2,462.7 L348.2,462.7 L349.2,462.7 L349.2,461.8 L350.2,461.8 L350.2,462.2 L351.2,462.2 L351.2,461.8 L352.2,461.8 L352.2,461.4 L353.2,461.4 L353.2,461.5 L354.2,461.5 L354.2,460.9 L355.2,460.9 L355.2,462.9 L356.2,462.9 L356.2,461.6 L357.2,461.6 L357.2,464.1 L358.2,464.1 L358.2,464.3 L359.2,464.3 L359.2,464.1 L360.2,464.1 L360.2,465.6 L361.2,465.6 L361.2,465.9 L362.2,465.9 L362.2,465.4 L363.2,465.4 L363.2,467.0 L364.2,467.0 L364.2,466.6 L365.2,466.6 L365.2,466.7 L366.2,466.7 L366.2,467.0 L367.2,467.0 L367.2,468.5 L368.2,468.5 L368.2,468.7 L369.2,468.7 L369.2,468.8 L370.2,468.8 L370.2,467.5 L371.2,467.5 L371.2,469.3 L372.2,469.3 L372.2,469.0 L373.2,469.0 L373.2,469.2 L374.2,469.2 L374.2,469.0 L375.2,469.0 L375.2,471.0 L376.2,471.0 L376.2,469.8 L377.2,469.8 L377.2,471.5 L378.2,471.5 L378.2,471.2 L379.2,471.2 L379.2,472.3 L380.2,472.3 L380.2,473.1 L381.2,473.1 L381.2,473.3 L382.2,473.3 L382.2,474.2 L383.2,474.2 L383.2,473.4 L384.2,473.4 L384.2,474.9 L385.2,474.9 L385.2,475.2 L386.2,475.2 L386.2,474.9 L387.2,474.9 L387.2,476.1 L388.2,476.1 L388.2,476.3 L389.2,476.3 L389.2,475.8 L390.2,475.8 L390.2,477.3 L391.2,477.3 L391.2,477.5 L392.2,477.5 L392.2,478.2 L393.2,478.2 L393.2,477.6 L394.2,477.6 L394.2,479.1 L395.2,479.1 L395.2,478.2 L396.2,478.2 L396.2,479.8 L397.2,479.8 L397.2,481.2 L398.2,481.2 L398.2,481.0 L399.2,481.0 L399.2,482.8 L400.2,482.8 L400.2,483.0 L401.2,483.0 L401.2,484.1 L402.2,484.1 L402.2,484.8 L403.2,484.8 L403.2,485.9 L404.2,485.9 L404.2,485.4 L405.2,485.4 L405.2,485.9 L406.2,485.9 L406.2,486.1 L407.2,486.1 L407.2,486.5 L408.2,486.5 L408.2,487.6 L409.2,487.6 L409.2,487.7 L410.2,487.7 L410.2,488.4 L411.2,488.4 L411.2,489.3 L412.2,489.3 L412.2,488.6 L413.2,488.6 L413.2,490.6 L414.2,490.6 L414.2,490.3 L415.2,490.3 L415.2,490.9 L416.2,490.9 L416.2,491.9 L417.2,491.9 L417.2,492.2 L418.2,492.2 L418.2,493.3 L419.2,493.3 L419.2,492.4 L420.2,492.4 L420.2,494.2 L421.2,494.2 L421.2,494.7 L422.2,494.7 L422.2,495.2 L423.2,495.2 L423.2,497.5 L424.2,497.5 L424.2,497.2 L425.2,497.2 L425.2,498.1 L426.2,498.1 L426.2,498.2 L427.2,498.2 L427.2,500.6 L428.2,500.6 L428.2,500.4 L429.2,500.4 L429.2,500.7 L430.2,500.7 L430.2,502.4 L431.2,502.4 L431.2,502.6 L432.2,502.6 L432.2,503.0 L433.2,503.0 L433.2,502.4 L434.2,502.4 L434.2,503.1 L435.2,503.1 L435.2,504.8 L436.2,504.8 L436.2,506.0 L437.2,506.0 L437.2,506.8 L438.2,506.8 L438.2,507.7 L439.2,507.7 L439.2,508.2 L440.2,508.2 L440.2,509.3 L441.2,509.3 L441.2,510.3 L442.2,510.3 L442.2,511.9 L443.2,511.9 L443.2,512.4 L444.2,512.4 L444.2,514.0 L445.2,514.0 L445.2,514.1 L446.2,514.1 L446.2,515.1 L447.2,515.1 L447.2,515.4 L448.2,515.4 L448.2,516.8 L449.2,516.8 L449.2,516.2 L450.2,516.2 L450.2,517.5 L451.2,517.5 L451.2,517.3 L452.2,517.3 L452.2,516.8 L453.2,516.8 L453.2,518.7 L454.2,518.7 L454.2,519.6 L455.2,519.6 L455.2,520.4 L456.2,520.4 L456.2,519.9 L457.2,519.9 L457.2,520.1 L458.2,520.1 L458.2,519.7 L459.2,519.7 L459.2,520.6 L460.2,520.6 L460.2,522.3 L461.2,522.3 L461.2,520.4 L462.2,520.4 L462.2,522.8 L463.2,522.8 L463.2,522.5 L464.2,522.5 L464.2,523.4 L465.2,523.4 L465.2,523.7 L466.2,523.7 L466.2,523.8 L467.2,523.8 L467.2,524.7 L468.2,524.7 L468.2,524.7 L469.2,524.7 L469.2,525.8 L470.2,525.8 L470.2,525.9 L471.2,525.9 L471.2,525.0 L472.2,525.0 L472.2,524.8 L473.2,524.8 L473.2,526.7 L474.2,526.7 L474.2,527.3 L475.2,527.3 L475.2,528.1 L476.2,528.1 L476.2,528.2 L477.2,528.2 L477.2,528.3 L478.2,528.3 L478.2,528.6 L479.2,528.6 L479.2,529.1 L480.2,529.1 L480.2,528.3 L481.2,528.3 L481.2,529.9 L482.2,529.9 L482.2,529.2 L483.2,529.2 L483.2,529.0 L484.2,529.0 L484.2,529.9 L485.2,529.9 L485.2,530.2 L486.2,530.2 L486.2,529.6 L487.2,529.6 L487.2,531.2 L487.7,531.2 L487.7,548.1 L487.2,548.1 L487.2,546.5 L486.2,546.5 L486.2,545.7 L485.2,545.7 L485.2,545.7 L484.2,545.7 L484.2,545.6 L483.2,545.6 L483.2,545.5 L482.2,545.5 L482.2,545.5 L481.2,545.5 L481.2,544.8 L480.2,544.8 L480.2,545.7 L479.2,545.7 L479.2,545.4 L478.2,545.4 L478.2,545.2 L477.2,545.2 L477.2,544.5 L476.2,544.5 L476.2,544.3 L475.2,544.3 L475.2,544.6 L474.2,544.6 L474.2,544.6 L473.2,544.6 L473.2,545.2 L472.2,545.2 L472.2,543.3 L471.2,543.3 L471.2,543.2 L470.2,543.2 L470.2,544.4 L469.2,544.4 L469.2,544.0 L468.2,544.0 L468.2,543.7 L467.2,543.7 L467.2,542.5 L466.2,542.5 L466.2,543.6 L465.2,543.6 L465.2,542.2 L464.2,542.2 L464.2,541.8 L463.2,541.8 L463.2,541.9 L462.2,541.9 L462.2,541.3 L461.2,541.3 L461.2,541.2 L460.2,541.2 L460.2,541.4 L459.2,541.4 L459.2,541.1 L458.2,541.1 L458.2,541.4 L457.2,541.4 L457.2,540.1 L456.2,540.1 L456.2,540.0 L455.2,540.0 L455.2,539.7 L454.2,539.7 L454.2,539.5 L453.2,539.5 L453.2,540.0 L452.2,540.0 L452.2,538.9 L451.2,538.9 L451.2,539.6 L450.2,539.6 L450.2,538.4 L449.2,538.4 L449.2,539.6 L448.2,539.6 L448.2,538.7 L447.2,538.7 L447.2,538.1 L446.2,538.1 L446.2,538.0 L445.2,538.0 L445.2,537.9 L444.2,537.9 L444.2,537.4 L443.2,537.4 L443.2,537.1 L442.2,537.1 L442.2,538.0 L441.2,538.0 L441.2,537.4 L440.2,537.4 L440.2,537.8 L439.2,537.8 L439.2,535.9 L438.2,535.9 L438.2,536.3 L437.2,536.3 L437.2,535.4 L436.2,535.4 L436.2,536.7 L435.2,536.7 L435.2,533.9 L434.2,533.9 L434.2,533.4 L433.2,533.4 L433.2,533.7 L432.2,533.7 L432.2,532.4 L431.2,532.4 L431.2,532.0 L430.2,532.0 L430.2,531.5 L429.2,531.5 L429.2,532.0 L428.2,532.0 L428.2,532.8 L427.2,532.8 L427.2,530.5 L426.2,530.5 L426.2,531.1 L425.2,531.1 L425.2,531.0 L424.2,531.0 L424.2,529.6 L423.2,529.6 L423.2,526.9 L422.2,526.9 L422.2,526.4 L421.2,526.4 L421.2,524.5 L420.2,524.5 L420.2,527.2 L419.2,527.2 L419.2,522.9 L418.2,522.9 L418.2,521.8 L417.2,521.8 L417.2,520.9 L416.2,520.9 L416.2,520.1 L415.2,520.1 L415.2,520.8 L414.2,520.8 L414.2,519.2 L413.2,519.2 L413.2,517.3 L412.2,517.3 L412.2,517.0 L411.2,517.0 L411.2,516.5 L410.2,516.5 L410.2,516.1 L409.2,516.1 L409.2,514.9 L408.2,514.9 L408.2,514.5 L407.2,514.5 L407.2,514.4 L406.2,514.4 L406.2,513.4 L405.2,513.4 L405.2,513.1 L404.2,513.1 L404.2,512.3 L403.2,512.3 L403.2,511.5 L402.2,511.5 L402.2,510.6 L401.2,510.6 L401.2,512.0 L400.2,512.0 L400.2,509.0 L399.2,509.0 L399.2,508.6 L398.2,508.6 L398.2,507.6 L397.2,507.6 L397.2,505.7 L396.2,505.7 L396.2,506.2 L395.2,506.2 L395.2,504.3 L394.2,504.3 L394.2,502.5 L393.2,502.5 L393.2,503.3 L392.2,503.3 L392.2,501.4 L391.2,501.4 L391.2,500.5 L390.2,500.5 L390.2,500.9 L389.2,500.9 L389.2,501.0 L388.2,501.0 L388.2,500.9 L387.2,500.9 L387.2,499.3 L386.2,499.3 L386.2,498.9 L385.2,498.9 L385.2,498.9 L384.2,498.9 L384.2,497.8 L383.2,497.8 L383.2,497.8 L382.2,497.8 L382.2,499.1 L381.2,499.1 L381.2,497.7 L380.2,497.7 L380.2,497.1 L379.2,497.1 L379.2,497.4 L378.2,497.4 L378.2,496.8 L377.2,496.8 L377.2,496.6 L376.2,496.6 L376.2,497.8 L375.2,497.8 L375.2,497.6 L374.2,497.6 L374.2,496.8 L373.2,496.8 L373.2,497.3 L372.2,497.3 L372.2,498.0 L371.2,498.0 L371.2,497.8 L370.2,497.8 L370.2,497.3 L369.2,497.3 L369.2,497.9 L368.2,497.9 L368.2,497.9 L367.2,497.9 L367.2,497.8 L366.2,497.8 L366.2,499.0 L365.2,499.0 L365.2,498.5 L364.2,498.5 L364.2,497.8 L363.2,497.8 L363.2,497.0 L362.2,497.0 L362.2,497.7 L361.2,497.7 L361.2,497.3 L360.2,497.3 L360.2,497.1 L359.2,497.1 L359.2,496.7 L358.2,496.7 L358.2,497.1 L357.2,497.1 L357.2,497.8 L356.2,497.8 L356.2,498.3 L355.2,498.3 L355.2,497.6 L354.2,497.6 L354.2,498.1 L353.2,498.1 L353.2,499.0 L352.2,499.0 L352.2,498.5 L351.2,498.5 L351.2,500.1 L350.2,500.1 L350.2,499.1 L349.2,499.1 L349.2,498.8 L348.2,498.8 L348.2,499.1 L347.2,499.1 L347.2,500.9 L346.2,500.9 L346.2,500.2 L345.2,500.2 L345.2,500.6 L344.2,500.6 L344.2,502.4 L343.2,502.4 L343.2,503.4 L342.2,503.4 L342.2,503.7 L341.2,503.7 L341.2,503.9 L340.2,503.9 L340.2,505.3 L339.2,505.3 L339.2,506.7 L338.2,506.7 L338.2,507.9 L337.2,507.9 L337.2,509.4 L336.2,509.4 L336.2,514.6 L335.2,514.6 L335.2,514.3 L334.2,514.3 L334.2,514.5 L333.2,514.5 L333.2,516.6 L332.2,516.6 L332.2,519.1 L331.2,519.1 L331.2,520.2 L330.2,520.2 L330.2,522.4 L329.2,522.4 L329.2,524.2 L328.2,524.2 L328.2,525.1 L327.2,525.1 L327.2,526.5 L326.2,526.5 L326.2,529.5 L325.2,529.5 L325.2,530.6 L324.2,530.6 L324.2,532.3 L323.2,532.3 L323.2,535.1 L322.2,535.1 L322.2,536.5 L321.2,536.5 L321.2,539.7 L320.2,539.7 L320.2,543.5 L319.2,543.5 L319.2,546.2 L318.2,546.2 L318.2,548.3 L317.2,548.3 L317.2,552.2 L316.2,552.2 L316.2,555.5 L315.2,555.5 L315.2,558.3 L314.2,558.3 L314.2,559.6 L313.2,559.6 L313.2,562.4 L312.2,562.4 L312.2,564.2 L311.2,564.2 L311.2,565.9 L310.2,565.9 L310.2,567.3 L309.2,567.3 L309.2,569.3 L308.2,569.3 L308.2,570.1 L307.2,570.1 L307.2,573.8 L306.2,573.8 L306.2,574.8 L305.2,574.8 L305.2,574.3 L304.2,574.3 L304.2,575.5 L303.2,575.5 L303.2,575.1 L302.2,575.1 L302.2,575.0 L301.2,575.0 L301.2,575.1 L300.2,575.1 Z" fill="#000"/>
<path d="M302.0,544.0 L302.3,519.0 L303.5,517.0 L304.3,528.0 L305.0,514.0 L306.0,514.0 L306.6,522.0 L307.6,527.0 L308.6,530.0 L309.8,536.0 L311.0,540.0 L312.5,547.0 L302.0,549.0 Z" fill="#05050f"/>
<line x1="302.90" y1="516.90" x2="302.90" y2="545.00" stroke="#000" stroke-width="1.0"/>
<line x1="301.60" y1="516.90" x2="304.20" y2="516.90" stroke="#000" stroke-width="0.9"/>
<line x1="305.40" y1="513.50" x2="305.40" y2="545.00" stroke="#000" stroke-width="1.0"/>
<line x1="304.10" y1="513.50" x2="306.70" y2="513.50" stroke="#000" stroke-width="0.9"/>
<line x1="307.90" y1="526.30" x2="307.90" y2="545.00" stroke="#000" stroke-width="1.0"/>
<line x1="306.60" y1="526.30" x2="309.20" y2="526.30" stroke="#000" stroke-width="0.9"/>
<line x1="310.40" y1="536.30" x2="310.40" y2="545.00" stroke="#000" stroke-width="1.0"/>
<line x1="309.10" y1="536.30" x2="311.70" y2="536.30" stroke="#000" stroke-width="0.9"/>
<path d="M300.4,556.0 L301.5,545.0 L302.5,541.0 L305.0,539.5 L308.0,541.0 L310.5,545.0 L312.0,552.0 L311.0,562.0 L308.0,569.0 L304.0,572.0 L300.3,573.0 Z" fill="#2323c8"/>
<rect x="304.2" y="544.7" width="1.6" height="0.9" fill="#000" opacity="0.7"/>
<rect x="306.4" y="551.3" width="0.9" height="1.7" fill="#000" opacity="0.7"/>
<rect x="301.4" y="553.4" width="0.9" height="1.0" fill="#000" opacity="0.7"/>
<rect x="305.2" y="565.6" width="0.9" height="1.2" fill="#000" opacity="0.7"/>
<rect x="307.3" y="569.4" width="1.5" height="1.5" fill="#000" opacity="0.7"/>
<rect x="310.8" y="541.4" width="1.8" height="1.3" fill="#000" opacity="0.7"/>
<rect x="302.4" y="543.7" width="1.2" height="2.2" fill="#000" opacity="0.7"/>
<rect x="302.8" y="558.0" width="1.6" height="1.4" fill="#000" opacity="0.7"/>
<rect x="306.5" y="541.9" width="0.9" height="1.2" fill="#000" opacity="0.7"/>
<rect x="307.8" y="553.3" width="1.2" height="1.8" fill="#000" opacity="0.7"/>
<rect x="305.5" y="549.3" width="1.8" height="2.0" fill="#000" opacity="0.7"/>
<rect x="303.4" y="557.8" width="1.4" height="2.3" fill="#000" opacity="0.7"/>
<rect x="308.3" y="548.9" width="2.0" height="1.0" fill="#000" opacity="0.7"/>
<rect x="305.2" y="563.5" width="1.0" height="1.6" fill="#000" opacity="0.7"/>
<rect x="301.4" y="560.7" width="1.7" height="1.8" fill="#000" opacity="0.7"/>
<rect x="309.8" y="549.7" width="1.6" height="1.8" fill="#000" opacity="0.7"/>
<rect x="306.8" y="554.1" width="1.8" height="2.4" fill="#000" opacity="0.7"/>
<rect x="305.7" y="560.6" width="0.9" height="2.0" fill="#000" opacity="0.7"/>
<rect x="307.5" y="570.8" width="1.8" height="1.3" fill="#000" opacity="0.7"/>
<rect x="304.9" y="560.7" width="0.8" height="1.6" fill="#000" opacity="0.7"/>
<rect x="302.7" y="543.6" width="0.9" height="2.1" fill="#000" opacity="0.7"/>
<rect x="302.3" y="547.7" width="1.3" height="2.3" fill="#000" opacity="0.7"/>
<rect x="301.8" y="553.9" width="1.5" height="2.3" fill="#000" opacity="0.7"/>
<rect x="309.2" y="566.8" width="1.1" height="1.5" fill="#000" opacity="0.7"/>
<rect x="304.6" y="567.4" width="1.9" height="1.1" fill="#000" opacity="0.7"/>
<rect x="302.8" y="547.2" width="1.1" height="1.6" fill="#000" opacity="0.7"/>
<rect x="306.9" y="548.1" width="0.8" height="1.5" fill="#000" opacity="0.7"/>
<rect x="304.7" y="557.6" width="1.9" height="2.0" fill="#000" opacity="0.7"/>
<rect x="306.2" y="559.1" width="1.6" height="0.9" fill="#000" opacity="0.7"/>
<rect x="310.0" y="564.2" width="1.8" height="2.2" fill="#000" opacity="0.7"/>
<path d="M310.0,568.1 L310.8,565.4 L311.6,563.8 L312.4,562.9 L313.2,559.9 L314.0,558.5 L314.8,557.4 L315.6,555.5 L316.4,554.9 L317.2,553.8 L318.0,551.6 L318.8,551.1 L319.6,549.1 L320.4,547.9 L321.2,547.1 L322.0,545.9 L322.8,544.5 L323.6,544.2 L324.4,542.6 L325.2,542.0 L326.0,541.1 L326.8,541.0 L327.6,540.2 L328.4,539.3 L329.2,537.8 L330.0,537.5 L330.8,536.9 L331.6,535.3 L332.4,534.8 L333.2,534.5 L334.0,533.7 L334.8,532.8 L335.6,532.4 L336.4,531.9 L337.2,531.5 L338.0,531.0 L338.8,530.3 L339.6,530.1 L340.4,529.7 L341.2,530.2 L342.0,529.1 L342.8,528.6 L343.6,528.2 L344.4,527.8 L345.2,527.3 L346.0,527.2 L346.8,526.6 L347.6,526.6 L348.4,525.9 L349.2,526.1 L350.0,526.1 L350.8,525.2 L351.6,525.5 L352.4,525.4 L353.2,525.0 L354.0,524.8 L354.8,524.2 L355.6,525.1 L356.4,524.2 L357.2,523.9 L358.0,524.4 L358.8,523.4 L359.6,524.2 L360.4,524.0 L361.2,524.2 L362.0,524.0 L362.8,523.7 L363.6,523.6 L364.4,524.8 L365.2,524.3 L366.0,524.3 L366.8,525.2 L367.6,524.5 L368.4,524.7 L369.2,524.8 L370.0,525.0 L370.8,524.8 L371.6,525.2 L372.4,526.1 L373.2,526.1 L374.0,525.0 L374.8,525.6 L375.6,526.6 L376.4,526.6 L377.2,526.8 L378.0,527.5 L378.8,526.8 L379.6,528.0 L380.4,527.9 L381.2,528.3 L382.0,528.4 L382.8,528.9 L383.6,528.7 L384.4,528.8 L385.2,529.5 L386.0,529.6 L386.8,529.3 L387.6,530.5 L388.4,530.6 L389.2,531.0 L390.0,530.7 L390.8,530.9 L391.6,530.9 L392.4,530.9 L393.2,531.4 L394.0,531.6 L394.8,531.5 L395.6,532.6 L396.4,531.6 L397.2,532.1 L398.0,532.3 L398.8,533.2 L399.6,532.8 L400.4,533.0 L401.2,533.0 L402.0,533.2 L402.8,533.2 L403.6,534.3 L404.4,534.3 L405.2,534.7 L406.0,534.3 L406.8,535.6 L407.6,534.6 L408.4,534.4 L409.2,535.2 L410.0,535.6 L410.8,536.0 L411.6,535.6 L412.4,536.3 L413.2,536.9 L414.0,536.2 L414.8,536.5 L415.6,536.3 L416.4,537.2 L417.2,537.6 L418.0,537.8 L418.8,538.0 L419.6,538.4 L420.4,538.2 L421.2,538.7 L422.0,538.2 L422.8,538.5 L423.6,539.0 L424.4,538.9 L425.2,539.5 L426.0,540.0 L426.8,539.9 L427.6,539.7 L428.4,539.9 L429.2,540.8 L430.0,540.3 L430.8,540.8 L431.6,540.9 L432.4,541.2 L433.2,541.7 L434.0,541.4 L434.8,541.3 L435.6,542.5 L436.4,542.3 L437.2,542.6 L438.0,542.6 L438.8,543.0 L439.6,543.4 L440.4,543.6 L441.2,543.3 L442.0,543.4 L442.8,543.9 L443.6,544.0 L444.4,544.3 L445.2,544.1 L446.0,543.7 L446.8,544.9 L447.6,545.2 L448.4,545.4 L449.2,545.9 L450.0,545.8 L450.8,545.6 L451.6,546.3 L452.4,546.1 L453.2,546.7 L454.0,546.6 L454.8,546.9 L455.6,546.9 L456.4,547.0 L457.2,546.7 L458.0,547.4 L458.8,546.7 L459.6,547.8 L460.4,548.2 L461.2,548.7 L462.0,548.3 L462.8,548.1 L463.6,547.9 L464.4,549.3 L465.2,548.3 L466.0,549.3 L466.8,548.3 L467.6,549.3 L468.4,549.7 L469.2,549.7 L470.0,549.8 L470.8,549.6 L471.6,549.8 L472.4,550.6 L473.2,550.6 L474.0,550.4 L474.8,550.6 L475.6,550.2 L476.4,551.0 L477.2,551.1 L478.0,550.4 L478.8,550.8 L479.6,551.2 L480.4,550.6 L481.2,551.6 L482.0,551.5 L482.8,550.9 L483.6,551.4 L484.4,551.7 L485.2,550.7 L486.0,551.4 L486.8,551.2 L487.6,551.2" fill="none" stroke="#e41e1e" stroke-width="3.0" stroke-linejoin="round"/>
<path d="M301.0,566.2 L301.8,563.4 L302.6,560.7 L303.4,558.3 L304.2,556.7 L305.0,555.9 L305.8,554.6 L306.6,553.5 L307.4,553.4 L308.2,554.7 L309.0,555.2 L309.8,555.5 L310.6,554.7 L311.4,553.6 L312.2,551.1 L313.0,548.4 L313.8,545.7 L314.6,542.5 L315.4,540.3 L316.2,536.4 L317.0,534.8 L317.8,531.4 L318.6,528.4 L319.4,526.4 L320.2,523.0 L321.0,521.2 L321.8,519.6 L322.6,517.4 L323.4,515.7 L324.2,514.2 L325.0,511.2 L325.8,509.1 L326.6,507.6 L327.4,506.8 L328.2,504.7 L329.0,503.6 L329.8,502.7 L330.6,500.1 L331.4,499.7 L332.2,497.8 L333.0,496.6 L333.8,496.6 L334.6,494.7 L335.4,494.1 L336.2,492.8 L337.0,492.3 L337.8,491.3 L338.6,490.6 L339.4,490.1 L340.2,489.6 L341.0,489.4 L341.8,488.2 L342.6,487.8 L343.4,486.9 L344.2,486.4 L345.0,485.3 L345.8,485.4 L346.6,484.1 L347.4,483.6 L348.2,482.8 L349.0,482.5 L349.8,481.6 L350.6,480.7 L351.4,480.1 L352.2,479.4 L353.0,478.9 L353.8,479.1 L354.6,479.9 L355.4,480.6 L356.2,480.7 L357.0,480.6 L357.8,482.2 L358.6,482.9 L359.4,482.6 L360.2,483.2 L361.0,483.0 L361.8,483.6 L362.6,482.7 L363.4,483.3 L364.2,481.5 L365.0,482.0 L365.8,481.9 L366.6,481.8 L367.4,482.5 L368.2,483.6 L369.0,484.2 L369.8,485.1 L370.6,485.4 L371.4,485.2 L372.2,485.3 L373.0,485.7 L373.8,485.3 L374.6,485.5 L375.4,485.1 L376.2,485.7 L377.0,485.2 L377.8,486.2 L378.6,485.1 L379.4,486.0 L380.2,486.1 L381.0,487.2 L381.8,487.2 L382.6,486.9 L383.4,487.4 L384.2,488.3 L385.0,488.2 L385.8,488.7 L386.6,488.3 L387.4,488.6 L388.2,489.7 L389.0,490.6 L389.8,489.9 L390.6,490.6 L391.4,490.4 L392.2,491.7 L393.0,491.6 L393.8,492.2 L394.6,492.2 L395.4,493.3 L396.2,494.0 L397.0,495.0 L397.8,494.6 L398.6,495.9 L399.4,496.0 L400.2,496.5 L401.0,496.7 L401.8,496.8 L402.6,497.4 L403.4,498.8 L404.2,498.2 L405.0,498.9 L405.8,499.8 L406.6,499.1 L407.4,500.4 L408.2,500.4 L409.0,501.1 L409.8,501.8 L410.6,501.9 L411.4,502.4 L412.2,503.2 L413.0,503.6 L413.8,503.6 L414.6,504.2 L415.4,504.3 L416.2,505.7 L417.0,505.3 L417.8,506.3 L418.6,507.3 L419.4,507.6 L420.2,507.9 L421.0,508.4 L421.8,509.1 L422.6,510.3 L423.4,510.7 L424.2,511.2 L425.0,512.8 L425.8,512.2 L426.6,513.0 L427.4,513.7 L428.2,514.3 L429.0,514.7 L429.8,514.9 L430.6,515.7 L431.4,516.0 L432.2,516.1 L433.0,515.8 L433.8,517.3 L434.6,517.1 L435.4,517.6 L436.2,518.2 L437.0,518.3 L437.8,519.0 L438.6,519.9 L439.4,520.3 L440.2,521.1 L441.0,521.2 L441.8,522.0 L442.6,522.2 L443.4,523.1 L444.2,523.8 L445.0,524.2 L445.8,524.3 L446.6,525.2 L447.4,525.7 L448.2,526.4 L449.0,526.4 L449.8,526.7 L450.6,526.8 L451.4,528.3 L452.2,527.7 L453.0,528.1 L453.8,528.8 L454.6,528.6 L455.4,530.0 L456.2,530.0 L457.0,530.4 L457.8,530.2 L458.6,530.7 L459.4,531.5 L460.2,531.8 L461.0,532.8 L461.8,532.5 L462.6,531.8 L463.4,532.8 L464.2,533.0 L465.0,533.7 L465.8,533.6 L466.6,534.1 L467.4,534.0 L468.2,534.6 L469.0,535.2 L469.8,534.8 L470.6,534.5 L471.4,535.1 L472.2,536.3 L473.0,536.1 L473.8,536.2 L474.6,536.2 L475.4,537.1 L476.2,537.1 L477.0,537.2 L477.8,537.2 L478.6,537.6 L479.4,537.8 L480.2,538.3 L481.0,538.8 L481.8,537.9 L482.6,538.3 L483.4,539.0 L484.2,539.3 L485.0,539.0 L485.8,539.5 L486.6,539.8 L487.4,540.0" fill="none" stroke="#2424e4" stroke-width="3.3" stroke-linejoin="round"/>
<rect x="369" y="507.3" width="2" height="2" fill="#000"/>
<line x1="299.70" y1="452.60" x2="299.70" y2="583.70" stroke="#000" stroke-width="1.6"/>
<line x1="298.90" y1="582.90" x2="492.00" y2="582.90" stroke="#000" stroke-width="1.6"/>
<line x1="294.80" y1="582.90" x2="299.70" y2="582.90" stroke="#000" stroke-width="1.6"/>
<text x="290.00" y="587.00" font-size="12.5" fill="#303030" text-anchor="end" >0</text>
<line x1="294.80" y1="541.10" x2="299.70" y2="541.10" stroke="#000" stroke-width="1.6"/>
<text x="290.00" y="545.20" font-size="12.5" fill="#303030" text-anchor="end" textLength="28" lengthAdjust="spacingAndGlyphs" >2000</text>
<line x1="294.80" y1="499.30" x2="299.70" y2="499.30" stroke="#000" stroke-width="1.6"/>
<text x="290.00" y="503.40" font-size="12.5" fill="#303030" text-anchor="end" textLength="28" lengthAdjust="spacingAndGlyphs" >4000</text>
<line x1="294.80" y1="457.20" x2="299.70" y2="457.20" stroke="#000" stroke-width="1.6"/>
<text x="290.00" y="461.30" font-size="12.5" fill="#303030" text-anchor="end" textLength="28" lengthAdjust="spacingAndGlyphs" >6000</text>
<line x1="299.50" y1="582.90" x2="299.50" y2="587.80" stroke="#000" stroke-width="1.6"/>
<text x="299.30" y="602.60" font-size="12.3" fill="#303030" text-anchor="middle" >0</text>
<line x1="393.50" y1="582.90" x2="393.50" y2="587.80" stroke="#000" stroke-width="1.6"/>
<text x="393.30" y="602.60" font-size="12.3" fill="#303030" text-anchor="middle" >50</text>
<line x1="487.50" y1="582.90" x2="487.50" y2="587.80" stroke="#000" stroke-width="1.6"/>
<text x="487.30" y="602.60" font-size="12.3" fill="#303030" text-anchor="middle" >100</text>
<text x="0" y="0" font-size="12.5" fill="#303030" text-anchor="middle" textLength="123" lengthAdjust="spacingAndGlyphs" stroke="#303030" stroke-width="0.45" transform="translate(254.00,517.10) rotate(-90)">Mean fluorescence intensity</text>
<text x="378.20" y="622.30" font-size="13.6" fill="#303030" textLength="20.2" lengthAdjust="spacingAndGlyphs" stroke="#1a1a1a" stroke-width="0.45">Time</text>
<text x="402.70" y="622.30" font-size="13.6" fill="#303030" textLength="10.6" lengthAdjust="spacingAndGlyphs" stroke="#1a1a1a" stroke-width="0.45">(s)</text>
<line x1="405.50" y1="435.00" x2="418.80" y2="435.00" stroke="#2a2aa8" stroke-width="1.9"/>
<line x1="405.50" y1="453.80" x2="418.80" y2="453.80" stroke="#c42828" stroke-width="1.9"/>
<text x="422.50" y="438.80" font-size="11.2" fill="#303030" textLength="78" lengthAdjust="spacingAndGlyphs" >Control (vehicle)</text>
<text x="422.50" y="457.60" font-size="11.2" fill="#303030" textLength="89" lengthAdjust="spacingAndGlyphs" >DCA (600 mg/Kg)</text>
<rect x="1" y="1" width="518" height="637" fill="none" stroke="#000" stroke-width="2"/>
</svg>
</body></html>
